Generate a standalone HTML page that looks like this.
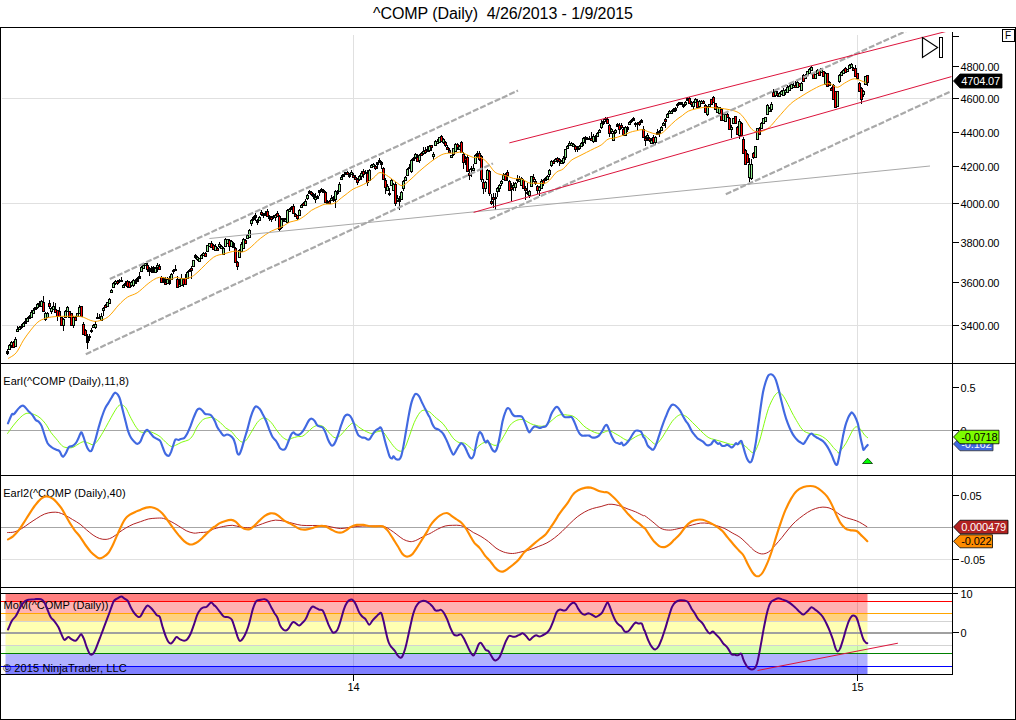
<!DOCTYPE html>
<html><head><meta charset="utf-8"><title>^COMP (Daily)</title>
<style>html,body{margin:0;padding:0;background:#fff;overflow:hidden}svg{display:block}</style></head>
<body>
<svg width="1016" height="720" viewBox="0 0 1016 720">
<rect x="0" y="0" width="1016" height="720" fill="#fff"/>
<g stroke="#e0e0e0" stroke-width="1" shape-rendering="crispEdges">
<line x1="2" y1="98.5" x2="952" y2="98.5"/>
<line x1="2" y1="203.5" x2="952" y2="203.5"/>
<line x1="2" y1="325.5" x2="952" y2="325.5"/>
<line x1="2" y1="559.5" x2="952" y2="559.5"/>
<line x1="353.5" y1="35" x2="353.5" y2="675"/>
<line x1="857.5" y1="35" x2="857.5" y2="675"/>
</g>
<rect x="5.5" y="594" width="862.0" height="7.3" fill="#ff0000" fill-opacity="0.5"/>
<rect x="5.5" y="601.3" width="862.0" height="12.0" fill="#ff0000" fill-opacity="0.3"/>
<rect x="5.5" y="613.3" width="862.0" height="8.0" fill="#ffa500" fill-opacity="0.5"/>
<rect x="5.5" y="621.3" width="862.0" height="24.2" fill="#ffff00" fill-opacity="0.3"/>
<rect x="5.5" y="645.5" width="862.0" height="7.9" fill="#7fff00" fill-opacity="0.3"/>
<rect x="5.5" y="653.4" width="862.0" height="13.0" fill="#0000ff" fill-opacity="0.3"/>
<rect x="5.5" y="666.4" width="862.0" height="7.6" fill="#0000ff" fill-opacity="0.5"/>
<g shape-rendering="crispEdges">
<line x1="1" y1="601.5" x2="952" y2="601.5" stroke="#ff0000"/>
<line x1="1" y1="613.5" x2="952" y2="613.5" stroke="#ffa500"/>
<line x1="1" y1="621.5" x2="952" y2="621.5" stroke="#d3d3d3"/>
<line x1="1" y1="633" x2="952" y2="633" stroke="#a0a0a0" stroke-width="2"/>
<line x1="1" y1="645.5" x2="952" y2="645.5" stroke="#d3d3d3"/>
<line x1="1" y1="653.5" x2="952" y2="653.5" stroke="#008000"/>
<line x1="1" y1="666.5" x2="952" y2="666.5" stroke="#0000ff"/>
<line x1="1" y1="430.5" x2="952" y2="430.5" stroke="#a6a6a6"/>
<line x1="1" y1="527.5" x2="952" y2="527.5" stroke="#a6a6a6"/>
</g>
<path d="M7.5,349.3V354.6M9.5,344.4V349.8M11.5,341.0V347.8M13.5,340.5V348.3M15.5,337.1V347.3M17.5,326.4V331.8M19.5,326.0V329.8M21.5,323.5V328.9M23.5,322.1V327.4M25.5,318.2V324.0M27.5,317.2V322.1M29.5,315.3V319.2M31.5,310.4V317.7M33.5,308.0V313.8M35.5,306.5V310.4M37.5,302.6V308.5M39.5,300.7V306.5M41.5,300.1V306.5M43.5,296.2V311.7M45.5,311.7V320.6M47.5,312.0V317.1M49.5,300.2V308.6M51.5,306.8V314.4M53.5,302.0V310.4M55.5,303.3V312.6M57.5,309.5V320.6M59.5,307.3V316.1M61.5,316.8V325.2M63.5,318.3V330.7M65.5,310.0V317.5M67.5,305.9V311.3M69.5,310.9V317.7M71.5,312.6V325.7M73.5,315.7V327.6M75.5,315.7V320.8M77.5,312.6V316.0M79.5,305.1V313.0M81.5,305.5V316.6M83.5,322.3V334.3M85.5,329.1V335.5M87.5,334.3V348.5M89.5,333.8V341.4M91.5,328.1V332.5M93.5,323.7V327.2M95.5,320.6V329.4M97.5,313.0V318.8M99.5,313.5V319.2M101.5,313.0V321.4M103.5,307.3V315.7M105.5,303.8V307.0M107.5,301.9V306.1M109.5,298.0V303.7M111.5,288.7V292.7M113.5,281.7V288.0M115.5,279.7V284.6M117.5,279.9V284.6M119.5,279.2V282.6M121.5,276.8V281.2M123.5,283.6V287.0M125.5,280.7V286.0M127.5,280.2V287.5M129.5,281.2V287.5M131.5,281.2V286.5M133.5,278.7V286.5M135.5,278.7V284.1M137.5,276.8V281.7M139.5,272.4V278.7M141.5,266.1V271.9M143.5,263.2V268.5M145.5,262.7V266.1M147.5,263.2V271.9M149.5,267.1V275.8M151.5,266.1V272.9M153.5,266.1V272.9M155.5,266.6V272.9M157.5,263.2V272.4M159.5,264.2V269.0M161.5,275.8V283.1M163.5,277.3V283.1M165.5,277.3V284.6M167.5,277.3V284.1M169.5,276.3V284.6M171.5,273.4V279.7M173.5,268.5V273.9M175.5,265.1V271.4M177.5,276.3V288.0M179.5,278.7V287.0M181.5,273.9V286.0M183.5,278.3V286.5M185.5,274.4V284.6M187.5,271.4V279.2M189.5,268.5V272.4M191.5,266.1V278.7M193.5,259.8V267.1M195.5,254.4V258.8M197.5,255.9V260.8M199.5,257.6V261.2M201.5,254.4V258.9M203.5,251.8V255.6M205.5,252.2V256.6M207.5,244.8V252.0M209.5,242.5V247.3M211.5,241.1V247.4M213.5,244.1V250.4M215.5,243.7V251.0M217.5,246.7V250.1M219.5,242.3V247.6M221.5,244.8V249.1M223.5,246.7V254.4M225.5,237.9V246.5M227.5,238.6V243.2M229.5,238.9V251.0M231.5,239.8V246.3M233.5,242.2V247.6M235.5,246.7V263.2M237.5,260.7V270.0M239.5,249.1V257.3M241.5,242.3V251.0M243.5,238.0V248.2M245.5,238.9V243.7M247.5,233.5V238.9M249.5,229.0V237.9M251.5,219.0V225.8M253.5,216.0V220.9M255.5,213.1V220.9M257.5,219.4V224.8M259.5,216.0V220.9M261.5,210.2V215.6M263.5,212.6V218.0M265.5,210.7V215.6M267.5,209.2V217.0M269.5,214.6V220.9M271.5,216.0V221.9M273.5,214.6V218.5M275.5,214.1V220.9M277.5,211.2V216.5M279.5,215.1V230.6M281.5,218.0V229.2M283.5,217.5V222.4M285.5,218.0V220.7M287.5,209.2V222.8M289.5,207.8V212.1M291.5,205.8V209.7M293.5,204.4V213.6M295.5,213.1V217.0M297.5,214.6V219.9M299.5,208.7V215.6M301.5,203.9V208.3M303.5,201.5V205.3M305.5,199.2V205.5M307.5,193.9V199.7M309.5,190.0V194.4M311.5,190.5V195.8M313.5,192.9V199.2M315.5,193.4V202.6M317.5,195.3V198.7M319.5,189.5V196.3M321.5,188.0V192.4M323.5,189.0V192.9M325.5,191.0V203.1M327.5,199.7V203.6M329.5,200.2V203.6M331.5,194.8V199.7M333.5,195.8V201.7M335.5,190.0V208.0M337.5,190.0V195.3M339.5,182.2V192.4M341.5,175.4V179.8M343.5,173.5V177.4M345.5,171.5V174.9M347.5,171.0V174.9M349.5,173.0V177.8M351.5,170.1V174.0M353.5,172.5V178.3M355.5,175.4V180.3M357.5,177.8V184.6M359.5,174.9V180.8M361.5,171.2V179.5M363.5,169.3V177.6M365.5,170.3V174.2M367.5,170.3V185.8M369.5,168.8V180.5M371.5,163.5V167.8M373.5,163.0V165.9M375.5,164.9V169.8M377.5,161.5V168.8M379.5,158.1V163.0M381.5,161.0V168.8M383.5,166.9V179.5M385.5,178.0V193.6M387.5,183.9V190.7M389.5,187.8V196.0M391.5,179.0V185.8M393.5,183.4V190.7M395.5,182.4V205.7M397.5,194.6V202.3M399.5,195.5V209.6M401.5,191.2V199.9M403.5,180.0V190.7M405.5,175.9V181.2M407.5,167.8V175.6M409.5,164.0V169.3M411.5,159.1V172.7M413.5,157.1V160.6M415.5,153.3V159.1M417.5,154.2V161.0M419.5,154.2V163.0M421.5,151.8V156.2M423.5,146.9V154.7M425.5,146.9V153.7M427.5,146.0V152.3M429.5,145.0V151.8M431.5,145.0V150.8M433.5,152.3V160.1M435.5,139.7V145.1M437.5,138.5V142.4M439.5,136.5V142.9M441.5,135.4V141.5M443.5,138.4V143.5M445.5,141.1V146.9M447.5,145.2V148.2M449.5,148.4V151.4M451.5,154.7V157.1M453.5,148.0V156.0M455.5,142.9V150.9M457.5,142.9V149.7M459.5,144.9V150.2M461.5,141.0V152.6M463.5,151.7V168.7M465.5,155.6V165.3M467.5,155.1V171.6M469.5,169.2V179.8M471.5,166.2V176.9M473.5,164.3V170.6M475.5,153.6V163.8M477.5,151.2V158.0M479.5,151.2V160.9M481.5,154.6V181.8M483.5,178.9V193.9M485.5,180.8V191.5M487.5,168.7V179.8M489.5,169.6V195.9M491.5,193.5V205.1M493.5,193.0V208.0M495.5,193.0V210.0M497.5,186.7V197.3M499.5,184.2V191.5M501.5,179.8V185.7M503.5,172.6V180.3M505.5,172.6V180.8M507.5,170.1V180.8M509.5,179.8V190.5M511.5,182.8V200.7M513.5,182.3V190.5M515.5,181.8V190.5M517.5,175.0V183.3M519.5,176.4V180.8M521.5,176.9V186.2M523.5,178.9V188.6M525.5,185.7V199.8M527.5,183.3V195.4M529.5,189.6V198.3M531.5,176.0V186.7M533.5,174.0V181.8M535.5,178.9V184.7M537.5,184.7V194.4M539.5,186.2V195.9M541.5,179.4V188.6M543.5,178.9V186.2M545.5,177.1V181.0M547.5,174.6V179.5M549.5,168.8V177.1M551.5,160.1V166.9M553.5,159.6V163.5M555.5,157.6V161.0M557.5,156.7V162.5M559.5,157.6V165.9M561.5,159.6V164.4M563.5,156.2V163.9M565.5,148.9V160.1M567.5,145.0V148.9M569.5,141.1V146.0M571.5,142.1V145.5M573.5,142.6V147.4M575.5,144.5V151.8M577.5,146.4V151.8M579.5,145.0V149.8M581.5,141.6V147.4M583.5,137.2V146.4M585.5,135.8V143.5M587.5,136.7V139.6M589.5,136.2V140.1M591.5,131.9V141.1M593.5,134.3V143.0M595.5,134.8V142.1M597.5,131.9V137.2M599.5,129.0V133.3M601.5,119.7V128.5M603.5,119.2V124.6M605.5,116.8V122.1M607.5,117.3V124.1M609.5,123.6V136.7M611.5,127.5V134.3M613.5,131.4V141.1M615.5,129.0V133.8M617.5,123.1V127.0M619.5,123.1V133.8M621.5,123.1V129.4M623.5,127.1V135.6M625.5,125.8V136.0M627.5,125.8V131.7M629.5,121.4V125.3M631.5,118.5V122.9M633.5,117.1V120.5M635.5,121.9V126.8M637.5,122.4V129.7M639.5,121.0V125.8M641.5,119.0V123.4M643.5,126.3V138.0M645.5,135.5V145.7M647.5,132.6V141.4M649.5,137.0V142.3M651.5,138.0V144.3M653.5,135.1V145.7M655.5,135.5V144.8M657.5,129.2V134.6M659.5,130.2V136.5M661.5,125.8V131.2M663.5,122.4V126.3M665.5,117.6V127.8M667.5,112.7V117.6M669.5,109.8V113.2M671.5,109.8V113.2M673.5,108.3V112.2M675.5,106.9V111.7M677.5,103.0V107.8M679.5,102.0V104.9M681.5,101.5V104.4M683.5,104.0V107.8M685.5,101.0V105.9M687.5,97.1V101.0M689.5,96.7V104.0M691.5,101.0V106.9M693.5,101.0V108.8M695.5,98.1V103.0M697.5,98.6V107.8M699.5,100.1V107.8M701.5,100.1V104.4M703.5,100.1V104.4M705.5,104.0V113.2M707.5,105.9V115.6M709.5,103.5V107.4M711.5,98.5V105.4M713.5,95.6V102.4M715.5,102.6V109.7M717.5,106.2V112.9M719.5,107.0V113.4M721.5,107.9V120.8M723.5,113.2V120.2M725.5,114.0V120.8M727.5,112.8V117.9M729.5,117.4V129.5M731.5,125.4V137.9M733.5,117.7V122.9M735.5,115.5V123.5M737.5,126.4V134.5M739.5,119.2V139.3M741.5,121.9V135.6M743.5,136.5V153.9M745.5,148.8V164.7M747.5,153.3V162.7M749.5,158.1V181.7M751.5,158.8V179.6M753.5,151.8V158.8M755.5,145.7V158.2M757.5,127.5V139.7M759.5,126.8V134.4M761.5,122.3V127.9M763.5,118.1V123.3M765.5,116.8V122.2M767.5,104.1V114.9M769.5,106.7V112.2M771.5,102.2V111.5M773.5,88.8V95.9M775.5,91.2V96.5M777.5,90.9V96.6M779.5,91.9V96.7M781.5,90.0V94.8M783.5,87.6V96.1M785.5,88.7V95.3M787.5,84.8V92.2M789.5,85.3V90.5M791.5,82.3V89.2M793.5,82.2V86.9M795.5,81.2V87.9M797.5,81.2V88.1M799.5,82.5V87.1M801.5,82.3V90.2M803.5,73.9V80.9M805.5,73.8V79.3M807.5,70.5V75.2M809.5,68.4V74.2M811.5,65.5V70.9M813.5,72.7V79.2M815.5,73.6V78.5M817.5,69.4V73.2M819.5,70.2V74.9M821.5,67.9V72.7M823.5,70.6V77.2M825.5,72.3V84.6M827.5,72.8V86.3M829.5,81.4V85.5M831.5,87.3V90.9M833.5,84.2V99.5M835.5,90.5V107.9M837.5,90.5V106.1M839.5,73.8V83.4M841.5,71.3V75.1M843.5,69.2V73.2M845.5,67.1V72.8M847.5,68.8V71.6M849.5,63.8V68.8M851.5,63.3V67.3M853.5,66.9V70.9M855.5,65.0V76.8M857.5,72.5V79.2M859.5,81.9V91.3M861.5,87.2V103.5M863.5,89.7V96.8M865.5,75.6V84.9M867.5,75.1V85.5" stroke="#000" stroke-width="1" fill="none" shape-rendering="crispEdges"/>
<g stroke="#000" stroke-width="1" fill="#90ee90" shape-rendering="crispEdges"><rect x="8.5" y="345.5" width="2" height="4.0"/><rect x="10.5" y="342.5" width="2" height="3.0"/><rect x="14.5" y="339.5" width="2" height="7.0"/><rect x="16.5" y="329.5" width="2" height="2.0"/><rect x="18.5" y="327.5" width="2" height="2.0"/><rect x="22.5" y="323.5" width="2" height="3.0"/><rect x="26.5" y="318.5" width="2" height="3.0"/><rect x="30.5" y="312.5" width="2" height="5.0"/><rect x="32.5" y="310.5" width="2" height="3.0"/><rect x="36.5" y="304.5" width="2" height="3.0"/><rect x="40.5" y="301.5" width="2" height="5.0"/><rect x="44.5" y="313.5" width="2" height="6.0"/><rect x="46.5" y="313.5" width="2" height="4.0"/><rect x="50.5" y="308.5" width="2" height="3.0"/><rect x="52.5" y="306.5" width="2" height="3.0"/><rect x="62.5" y="319.5" width="2" height="6.0"/><rect x="64.5" y="311.5" width="2" height="6.0"/><rect x="66.5" y="307.5" width="2" height="4.0"/><rect x="72.5" y="317.5" width="2" height="8.0"/><rect x="76.5" y="313.5" width="2" height="3.0"/><rect x="78.5" y="307.5" width="2" height="6.0"/><rect x="92.5" y="325.5" width="2" height="2.0"/><rect x="94.5" y="324.5" width="2" height="3.0"/><rect x="100.5" y="316.5" width="2" height="4.0"/><rect x="102.5" y="308.5" width="2" height="2.0"/><rect x="106.5" y="302.5" width="2" height="4.0"/><rect x="108.5" y="299.5" width="2" height="4.0"/><rect x="110.5" y="290.5" width="2" height="2.0"/><rect x="112.5" y="283.5" width="2" height="4.0"/><rect x="114.5" y="281.5" width="2" height="2.0"/><rect x="122.5" y="285.5" width="2" height="2.0"/><rect x="130.5" y="282.5" width="2" height="3.0"/><rect x="132.5" y="280.5" width="2" height="5.0"/><rect x="140.5" y="267.5" width="2" height="4.0"/><rect x="142.5" y="265.5" width="2" height="3.0"/><rect x="144.5" y="263.5" width="2" height="2.0"/><rect x="154.5" y="268.5" width="2" height="4.0"/><rect x="156.5" y="265.5" width="2" height="2.0"/><rect x="166.5" y="279.5" width="2" height="4.0"/><rect x="170.5" y="274.5" width="2" height="5.0"/><rect x="178.5" y="284.5" width="2" height="2.0"/><rect x="180.5" y="278.5" width="2" height="7.0"/><rect x="186.5" y="272.5" width="2" height="6.0"/><rect x="192.5" y="260.5" width="2" height="6.0"/><rect x="196.5" y="257.5" width="2" height="2.0"/><rect x="198.5" y="258.5" width="2" height="3.0"/><rect x="200.5" y="255.5" width="2" height="3.0"/><rect x="202.5" y="253.5" width="2" height="2.0"/><rect x="206.5" y="245.5" width="2" height="6.0"/><rect x="208.5" y="243.5" width="2" height="3.0"/><rect x="214.5" y="246.5" width="2" height="4.0"/><rect x="218.5" y="244.5" width="2" height="2.0"/><rect x="220.5" y="246.5" width="2" height="2.0"/><rect x="222.5" y="248.5" width="2" height="6.0"/><rect x="224.5" y="239.5" width="2" height="7.0"/><rect x="226.5" y="239.5" width="2" height="4.0"/><rect x="230.5" y="241.5" width="2" height="5.0"/><rect x="238.5" y="250.5" width="2" height="7.0"/><rect x="240.5" y="244.5" width="2" height="7.0"/><rect x="242.5" y="239.5" width="2" height="9.0"/><rect x="246.5" y="235.5" width="2" height="3.0"/><rect x="248.5" y="230.5" width="2" height="7.0"/><rect x="250.5" y="220.5" width="2" height="3.0"/><rect x="258.5" y="217.5" width="2" height="3.0"/><rect x="274.5" y="215.5" width="2" height="2.0"/><rect x="280.5" y="219.5" width="2" height="8.0"/><rect x="284.5" y="219.5" width="2" height="2.0"/><rect x="286.5" y="210.5" width="2" height="12.0"/><rect x="288.5" y="209.5" width="2" height="2.0"/><rect x="298.5" y="210.5" width="2" height="5.0"/><rect x="300.5" y="205.5" width="2" height="2.0"/><rect x="304.5" y="201.5" width="2" height="4.0"/><rect x="306.5" y="195.5" width="2" height="3.0"/><rect x="314.5" y="197.5" width="2" height="2.0"/><rect x="330.5" y="198.5" width="2" height="2.0"/><rect x="334.5" y="191.5" width="2" height="8.0"/><rect x="338.5" y="184.5" width="2" height="7.0"/><rect x="340.5" y="177.5" width="2" height="2.0"/><rect x="350.5" y="172.5" width="2" height="2.0"/><rect x="358.5" y="176.5" width="2" height="3.0"/><rect x="360.5" y="173.5" width="2" height="3.0"/><rect x="368.5" y="170.5" width="2" height="10.0"/><rect x="370.5" y="165.5" width="2" height="2.0"/><rect x="372.5" y="164.5" width="2" height="2.0"/><rect x="386.5" y="186.5" width="2" height="4.0"/><rect x="390.5" y="180.5" width="2" height="5.0"/><rect x="392.5" y="184.5" width="2" height="6.0"/><rect x="396.5" y="198.5" width="2" height="2.0"/><rect x="400.5" y="192.5" width="2" height="7.0"/><rect x="402.5" y="181.5" width="2" height="7.0"/><rect x="404.5" y="177.5" width="2" height="3.0"/><rect x="406.5" y="169.5" width="2" height="6.0"/><rect x="410.5" y="160.5" width="2" height="11.0"/><rect x="414.5" y="154.5" width="2" height="3.0"/><rect x="418.5" y="155.5" width="2" height="5.0"/><rect x="422.5" y="151.5" width="2" height="2.0"/><rect x="428.5" y="146.5" width="2" height="4.0"/><rect x="432.5" y="154.5" width="2" height="2.0"/><rect x="434.5" y="141.5" width="2" height="4.0"/><rect x="436.5" y="141.5" width="2" height="2.0"/><rect x="438.5" y="137.5" width="2" height="5.0"/><rect x="442.5" y="139.5" width="2" height="3.0"/><rect x="450.5" y="155.5" width="2" height="2.0"/><rect x="452.5" y="148.5" width="2" height="6.0"/><rect x="454.5" y="144.5" width="2" height="7.0"/><rect x="458.5" y="146.5" width="2" height="3.0"/><rect x="472.5" y="168.5" width="2" height="2.0"/><rect x="474.5" y="155.5" width="2" height="8.0"/><rect x="484.5" y="182.5" width="2" height="6.0"/><rect x="486.5" y="170.5" width="2" height="9.0"/><rect x="496.5" y="188.5" width="2" height="3.0"/><rect x="498.5" y="185.5" width="2" height="3.0"/><rect x="500.5" y="181.5" width="2" height="2.0"/><rect x="502.5" y="175.5" width="2" height="4.0"/><rect x="512.5" y="185.5" width="2" height="2.0"/><rect x="514.5" y="183.5" width="2" height="4.0"/><rect x="518.5" y="179.5" width="2" height="2.0"/><rect x="520.5" y="178.5" width="2" height="7.0"/><rect x="528.5" y="191.5" width="2" height="4.0"/><rect x="530.5" y="176.5" width="2" height="10.0"/><rect x="538.5" y="187.5" width="2" height="3.0"/><rect x="540.5" y="181.5" width="2" height="7.0"/><rect x="546.5" y="176.5" width="2" height="3.0"/><rect x="548.5" y="170.5" width="2" height="4.0"/><rect x="550.5" y="161.5" width="2" height="4.0"/><rect x="554.5" y="159.5" width="2" height="2.0"/><rect x="560.5" y="161.5" width="2" height="2.0"/><rect x="562.5" y="158.5" width="2" height="4.0"/><rect x="564.5" y="149.5" width="2" height="8.0"/><rect x="566.5" y="146.5" width="2" height="2.0"/><rect x="568.5" y="143.5" width="2" height="2.0"/><rect x="570.5" y="143.5" width="2" height="2.0"/><rect x="572.5" y="144.5" width="2" height="2.0"/><rect x="578.5" y="146.5" width="2" height="2.0"/><rect x="580.5" y="143.5" width="2" height="3.0"/><rect x="582.5" y="138.5" width="2" height="4.0"/><rect x="592.5" y="136.5" width="2" height="5.0"/><rect x="596.5" y="133.5" width="2" height="3.0"/><rect x="598.5" y="130.5" width="2" height="2.0"/><rect x="600.5" y="123.5" width="2" height="4.0"/><rect x="610.5" y="129.5" width="2" height="2.0"/><rect x="612.5" y="133.5" width="2" height="7.0"/><rect x="614.5" y="130.5" width="2" height="2.0"/><rect x="624.5" y="127.5" width="2" height="8.0"/><rect x="628.5" y="122.5" width="2" height="2.0"/><rect x="646.5" y="135.5" width="2" height="2.0"/><rect x="650.5" y="140.5" width="2" height="3.0"/><rect x="654.5" y="137.5" width="2" height="5.0"/><rect x="660.5" y="127.5" width="2" height="3.0"/><rect x="662.5" y="123.5" width="2" height="2.0"/><rect x="666.5" y="114.5" width="2" height="3.0"/><rect x="668.5" y="111.5" width="2" height="2.0"/><rect x="670.5" y="111.5" width="2" height="2.0"/><rect x="684.5" y="102.5" width="2" height="2.0"/><rect x="692.5" y="102.5" width="2" height="4.0"/><rect x="694.5" y="99.5" width="2" height="3.0"/><rect x="698.5" y="101.5" width="2" height="5.0"/><rect x="700.5" y="101.5" width="2" height="2.0"/><rect x="706.5" y="107.5" width="2" height="7.0"/><rect x="708.5" y="104.5" width="2" height="2.0"/><rect x="716.5" y="107.5" width="2" height="5.0"/><rect x="718.5" y="107.5" width="2" height="6.0"/><rect x="722.5" y="114.5" width="2" height="6.0"/><rect x="724.5" y="114.5" width="2" height="7.0"/><rect x="730.5" y="127.5" width="2" height="2.0"/><rect x="732.5" y="118.5" width="2" height="5.0"/><rect x="738.5" y="121.5" width="2" height="14.0"/><rect x="748.5" y="164.5" width="2" height="13.0"/><rect x="750.5" y="164.5" width="2" height="14.0"/><rect x="754.5" y="146.5" width="2" height="11.0"/><rect x="756.5" y="128.5" width="2" height="11.0"/><rect x="760.5" y="123.5" width="2" height="5.0"/><rect x="762.5" y="118.5" width="2" height="5.0"/><rect x="764.5" y="117.5" width="2" height="4.0"/><rect x="766.5" y="105.5" width="2" height="9.0"/><rect x="768.5" y="108.5" width="2" height="3.0"/><rect x="770.5" y="104.5" width="2" height="5.0"/><rect x="774.5" y="91.5" width="2" height="4.0"/><rect x="778.5" y="93.5" width="2" height="3.0"/><rect x="780.5" y="91.5" width="2" height="3.0"/><rect x="782.5" y="90.5" width="2" height="5.0"/><rect x="784.5" y="90.5" width="2" height="2.0"/><rect x="786.5" y="87.5" width="2" height="5.0"/><rect x="788.5" y="86.5" width="2" height="4.0"/><rect x="790.5" y="84.5" width="2" height="4.0"/><rect x="792.5" y="85.5" width="2" height="2.0"/><rect x="796.5" y="82.5" width="2" height="5.0"/><rect x="800.5" y="83.5" width="2" height="7.0"/><rect x="804.5" y="75.5" width="2" height="3.0"/><rect x="806.5" y="71.5" width="2" height="4.0"/><rect x="808.5" y="69.5" width="2" height="4.0"/><rect x="810.5" y="67.5" width="2" height="3.0"/><rect x="814.5" y="74.5" width="2" height="4.0"/><rect x="816.5" y="70.5" width="2" height="3.0"/><rect x="820.5" y="68.5" width="2" height="4.0"/><rect x="824.5" y="73.5" width="2" height="11.0"/><rect x="836.5" y="91.5" width="2" height="15.0"/><rect x="838.5" y="75.5" width="2" height="6.0"/><rect x="840.5" y="72.5" width="2" height="3.0"/><rect x="842.5" y="70.5" width="2" height="3.0"/><rect x="846.5" y="69.5" width="2" height="2.0"/><rect x="848.5" y="65.5" width="2" height="3.0"/><rect x="850.5" y="64.5" width="2" height="3.0"/><rect x="862.5" y="91.5" width="2" height="3.0"/><rect x="864.5" y="76.5" width="2" height="8.0"/></g>
<g stroke="#000" stroke-width="1" fill="#ff0000" shape-rendering="crispEdges"><rect x="12.5" y="342.5" width="2" height="5.0"/><rect x="42.5" y="302.5" width="2" height="9.0"/><rect x="48.5" y="303.5" width="2" height="3.0"/><rect x="54.5" y="309.5" width="2" height="3.0"/><rect x="56.5" y="310.5" width="2" height="6.0"/><rect x="58.5" y="311.5" width="2" height="5.0"/><rect x="60.5" y="317.5" width="2" height="8.0"/><rect x="68.5" y="311.5" width="2" height="6.0"/><rect x="70.5" y="313.5" width="2" height="12.0"/><rect x="74.5" y="317.5" width="2" height="3.0"/><rect x="80.5" y="306.5" width="2" height="10.0"/><rect x="82.5" y="324.5" width="2" height="10.0"/><rect x="84.5" y="330.5" width="2" height="5.0"/><rect x="104.5" y="305.5" width="2" height="2.0"/><rect x="116.5" y="281.5" width="2" height="2.0"/><rect x="126.5" y="281.5" width="2" height="5.0"/><rect x="128.5" y="282.5" width="2" height="5.0"/><rect x="146.5" y="265.5" width="2" height="4.0"/><rect x="158.5" y="266.5" width="2" height="3.0"/><rect x="160.5" y="277.5" width="2" height="5.0"/><rect x="164.5" y="282.5" width="2" height="2.0"/><rect x="176.5" y="279.5" width="2" height="8.0"/><rect x="182.5" y="279.5" width="2" height="5.0"/><rect x="184.5" y="278.5" width="2" height="6.0"/><rect x="190.5" y="268.5" width="2" height="2.0"/><rect x="204.5" y="253.5" width="2" height="3.0"/><rect x="210.5" y="243.5" width="2" height="4.0"/><rect x="212.5" y="245.5" width="2" height="4.0"/><rect x="216.5" y="248.5" width="2" height="2.0"/><rect x="228.5" y="240.5" width="2" height="6.0"/><rect x="234.5" y="248.5" width="2" height="14.0"/><rect x="236.5" y="262.5" width="2" height="4.0"/><rect x="244.5" y="240.5" width="2" height="3.0"/><rect x="260.5" y="212.5" width="2" height="2.0"/><rect x="266.5" y="211.5" width="2" height="5.0"/><rect x="270.5" y="217.5" width="2" height="2.0"/><rect x="276.5" y="213.5" width="2" height="3.0"/><rect x="278.5" y="216.5" width="2" height="13.0"/><rect x="292.5" y="206.5" width="2" height="7.0"/><rect x="294.5" y="214.5" width="2" height="2.0"/><rect x="296.5" y="215.5" width="2" height="3.0"/><rect x="302.5" y="203.5" width="2" height="2.0"/><rect x="310.5" y="192.5" width="2" height="2.0"/><rect x="324.5" y="192.5" width="2" height="10.0"/><rect x="328.5" y="201.5" width="2" height="2.0"/><rect x="346.5" y="172.5" width="2" height="2.0"/><rect x="352.5" y="175.5" width="2" height="2.0"/><rect x="354.5" y="177.5" width="2" height="2.0"/><rect x="356.5" y="179.5" width="2" height="3.0"/><rect x="362.5" y="171.5" width="2" height="3.0"/><rect x="366.5" y="173.5" width="2" height="9.0"/><rect x="374.5" y="166.5" width="2" height="2.0"/><rect x="382.5" y="168.5" width="2" height="11.0"/><rect x="384.5" y="180.5" width="2" height="7.0"/><rect x="394.5" y="184.5" width="2" height="19.0"/><rect x="416.5" y="157.5" width="2" height="4.0"/><rect x="420.5" y="153.5" width="2" height="2.0"/><rect x="424.5" y="150.5" width="2" height="2.0"/><rect x="430.5" y="145.5" width="2" height="2.0"/><rect x="440.5" y="136.5" width="2" height="5.0"/><rect x="444.5" y="142.5" width="2" height="3.0"/><rect x="446.5" y="147.5" width="2" height="2.0"/><rect x="448.5" y="150.5" width="2" height="2.0"/><rect x="456.5" y="144.5" width="2" height="3.0"/><rect x="460.5" y="142.5" width="2" height="10.0"/><rect x="462.5" y="154.5" width="2" height="8.0"/><rect x="464.5" y="158.5" width="2" height="2.0"/><rect x="466.5" y="157.5" width="2" height="14.0"/><rect x="468.5" y="173.5" width="2" height="2.0"/><rect x="478.5" y="153.5" width="2" height="6.0"/><rect x="480.5" y="156.5" width="2" height="23.0"/><rect x="482.5" y="182.5" width="2" height="6.0"/><rect x="488.5" y="171.5" width="2" height="22.0"/><rect x="490.5" y="201.5" width="2" height="2.0"/><rect x="492.5" y="197.5" width="2" height="2.0"/><rect x="504.5" y="174.5" width="2" height="6.0"/><rect x="506.5" y="172.5" width="2" height="3.0"/><rect x="508.5" y="181.5" width="2" height="9.0"/><rect x="510.5" y="187.5" width="2" height="2.0"/><rect x="522.5" y="180.5" width="2" height="8.0"/><rect x="524.5" y="188.5" width="2" height="2.0"/><rect x="532.5" y="177.5" width="2" height="2.0"/><rect x="534.5" y="181.5" width="2" height="2.0"/><rect x="536.5" y="186.5" width="2" height="4.0"/><rect x="542.5" y="180.5" width="2" height="3.0"/><rect x="552.5" y="161.5" width="2" height="2.0"/><rect x="556.5" y="158.5" width="2" height="2.0"/><rect x="558.5" y="159.5" width="2" height="2.0"/><rect x="574.5" y="146.5" width="2" height="3.0"/><rect x="590.5" y="138.5" width="2" height="2.0"/><rect x="606.5" y="119.5" width="2" height="4.0"/><rect x="608.5" y="125.5" width="2" height="8.0"/><rect x="618.5" y="125.5" width="2" height="4.0"/><rect x="620.5" y="125.5" width="2" height="2.0"/><rect x="622.5" y="129.5" width="2" height="5.0"/><rect x="638.5" y="122.5" width="2" height="2.0"/><rect x="642.5" y="129.5" width="2" height="8.0"/><rect x="644.5" y="138.5" width="2" height="2.0"/><rect x="648.5" y="138.5" width="2" height="2.0"/><rect x="652.5" y="137.5" width="2" height="5.0"/><rect x="664.5" y="119.5" width="2" height="2.0"/><rect x="688.5" y="98.5" width="2" height="5.0"/><rect x="690.5" y="102.5" width="2" height="2.0"/><rect x="696.5" y="101.5" width="2" height="6.0"/><rect x="702.5" y="101.5" width="2" height="2.0"/><rect x="704.5" y="105.5" width="2" height="7.0"/><rect x="710.5" y="99.5" width="2" height="5.0"/><rect x="712.5" y="97.5" width="2" height="5.0"/><rect x="714.5" y="103.5" width="2" height="6.0"/><rect x="720.5" y="109.5" width="2" height="11.0"/><rect x="726.5" y="114.5" width="2" height="3.0"/><rect x="728.5" y="118.5" width="2" height="11.0"/><rect x="734.5" y="116.5" width="2" height="7.0"/><rect x="736.5" y="127.5" width="2" height="7.0"/><rect x="740.5" y="123.5" width="2" height="12.0"/><rect x="742.5" y="139.5" width="2" height="14.0"/><rect x="744.5" y="150.5" width="2" height="14.0"/><rect x="746.5" y="154.5" width="2" height="8.0"/><rect x="752.5" y="153.5" width="2" height="4.0"/><rect x="758.5" y="128.5" width="2" height="6.0"/><rect x="772.5" y="92.5" width="2" height="4.0"/><rect x="776.5" y="93.5" width="2" height="2.0"/><rect x="794.5" y="85.5" width="2" height="2.0"/><rect x="798.5" y="83.5" width="2" height="3.0"/><rect x="802.5" y="75.5" width="2" height="6.0"/><rect x="812.5" y="73.5" width="2" height="5.0"/><rect x="818.5" y="70.5" width="2" height="5.0"/><rect x="822.5" y="71.5" width="2" height="5.0"/><rect x="826.5" y="73.5" width="2" height="13.0"/><rect x="828.5" y="82.5" width="2" height="3.0"/><rect x="830.5" y="88.5" width="2" height="2.0"/><rect x="832.5" y="85.5" width="2" height="14.0"/><rect x="834.5" y="91.5" width="2" height="16.0"/><rect x="844.5" y="68.5" width="2" height="4.0"/><rect x="852.5" y="68.5" width="2" height="2.0"/><rect x="854.5" y="68.5" width="2" height="8.0"/><rect x="856.5" y="73.5" width="2" height="5.0"/><rect x="858.5" y="83.5" width="2" height="8.0"/><rect x="860.5" y="88.5" width="2" height="11.0"/><rect x="866.5" y="75.5" width="2" height="7.0"/></g>
<g fill="#000" shape-rendering="crispEdges"><rect x="6.0" y="351.0" width="3" height="3.0"/><rect x="20.0" y="326.0" width="3" height="2.0"/><rect x="24.0" y="321.0" width="3" height="3.0"/><rect x="28.0" y="316.0" width="3" height="3.0"/><rect x="34.0" y="307.0" width="3" height="3.0"/><rect x="38.0" y="303.0" width="3" height="3.0"/><rect x="86.0" y="336.0" width="3" height="7.0"/><rect x="88.0" y="336.0" width="3" height="2.0"/><rect x="90.0" y="330.0" width="3" height="2.0"/><rect x="96.0" y="317.0" width="3" height="2.0"/><rect x="98.0" y="317.0" width="3" height="2.0"/><rect x="118.0" y="280.0" width="3" height="2.0"/><rect x="120.0" y="280.0" width="3" height="2.0"/><rect x="124.0" y="283.0" width="3" height="3.0"/><rect x="134.0" y="281.0" width="3" height="3.0"/><rect x="136.0" y="278.0" width="3" height="4.0"/><rect x="138.0" y="276.0" width="3" height="3.0"/><rect x="148.0" y="270.0" width="3" height="2.0"/><rect x="150.0" y="268.0" width="3" height="3.0"/><rect x="152.0" y="267.0" width="3" height="6.0"/><rect x="162.0" y="278.0" width="3" height="5.0"/><rect x="168.0" y="278.0" width="3" height="6.0"/><rect x="172.0" y="270.0" width="3" height="2.0"/><rect x="174.0" y="269.0" width="3" height="2.0"/><rect x="188.0" y="270.0" width="3" height="2.0"/><rect x="194.0" y="255.0" width="3" height="3.0"/><rect x="232.0" y="243.0" width="3" height="5.0"/><rect x="252.0" y="217.0" width="3" height="3.0"/><rect x="254.0" y="215.0" width="3" height="3.0"/><rect x="256.0" y="220.0" width="3" height="3.0"/><rect x="262.0" y="214.0" width="3" height="2.0"/><rect x="264.0" y="213.0" width="3" height="3.0"/><rect x="268.0" y="216.0" width="3" height="3.0"/><rect x="272.0" y="216.0" width="3" height="2.0"/><rect x="282.0" y="218.0" width="3" height="3.0"/><rect x="290.0" y="207.0" width="3" height="3.0"/><rect x="308.0" y="191.0" width="3" height="3.0"/><rect x="312.0" y="194.0" width="3" height="3.0"/><rect x="316.0" y="196.0" width="3" height="3.0"/><rect x="318.0" y="190.0" width="3" height="3.0"/><rect x="320.0" y="189.0" width="3" height="2.0"/><rect x="322.0" y="190.0" width="3" height="3.0"/><rect x="326.0" y="201.0" width="3" height="3.0"/><rect x="332.0" y="197.0" width="3" height="4.0"/><rect x="336.0" y="191.0" width="3" height="3.0"/><rect x="342.0" y="174.0" width="3" height="3.0"/><rect x="344.0" y="172.0" width="3" height="3.0"/><rect x="348.0" y="174.0" width="3" height="3.0"/><rect x="364.0" y="172.0" width="3" height="2.0"/><rect x="376.0" y="162.0" width="3" height="3.0"/><rect x="378.0" y="160.0" width="3" height="2.0"/><rect x="380.0" y="162.0" width="3" height="3.0"/><rect x="388.0" y="193.0" width="3" height="2.0"/><rect x="398.0" y="199.0" width="3" height="3.0"/><rect x="408.0" y="167.0" width="3" height="2.0"/><rect x="412.0" y="158.0" width="3" height="3.0"/><rect x="426.0" y="149.0" width="3" height="3.0"/><rect x="470.0" y="168.0" width="3" height="2.0"/><rect x="476.0" y="153.0" width="3" height="5.0"/><rect x="494.0" y="197.0" width="3" height="2.0"/><rect x="516.0" y="179.0" width="3" height="2.0"/><rect x="526.0" y="192.0" width="3" height="2.0"/><rect x="544.0" y="178.0" width="3" height="3.0"/><rect x="576.0" y="148.0" width="3" height="2.0"/><rect x="584.0" y="137.0" width="3" height="3.0"/><rect x="586.0" y="138.0" width="3" height="2.0"/><rect x="588.0" y="138.0" width="3" height="2.0"/><rect x="594.0" y="136.0" width="3" height="6.0"/><rect x="602.0" y="121.0" width="3" height="3.0"/><rect x="604.0" y="118.0" width="3" height="2.0"/><rect x="616.0" y="124.0" width="3" height="3.0"/><rect x="626.0" y="127.0" width="3" height="3.0"/><rect x="630.0" y="120.0" width="3" height="2.0"/><rect x="632.0" y="118.0" width="3" height="3.0"/><rect x="634.0" y="123.0" width="3" height="2.0"/><rect x="636.0" y="123.0" width="3" height="2.0"/><rect x="640.0" y="120.0" width="3" height="3.0"/><rect x="656.0" y="132.0" width="3" height="3.0"/><rect x="658.0" y="131.0" width="3" height="3.0"/><rect x="672.0" y="109.0" width="3" height="3.0"/><rect x="674.0" y="108.0" width="3" height="3.0"/><rect x="676.0" y="104.0" width="3" height="2.0"/><rect x="678.0" y="102.0" width="3" height="3.0"/><rect x="680.0" y="102.0" width="3" height="3.0"/><rect x="682.0" y="105.0" width="3" height="2.0"/><rect x="686.0" y="98.0" width="3" height="3.0"/></g>
<path d="M8.1,358.5 C9.5,357.6 13.7,355.8 16.2,352.8 C18.8,349.7 21.1,343.9 23.5,340.1 C25.9,336.4 28.3,333.2 30.7,330.2 C33.1,327.2 35.5,324.0 37.9,322.1 C40.3,320.1 42.4,319.4 45.1,318.5 C47.8,317.6 50.3,317.0 54.2,316.7 C58.1,316.3 64.1,316.3 68.6,316.3 C73.1,316.3 77.6,316.0 81.2,316.7 C84.9,317.3 87.6,319.5 90.3,320.3 C93.0,321.0 94.5,321.8 97.5,321.2 C100.5,320.6 104.8,319.4 108.3,316.7 C111.9,314.0 115.5,308.2 118.7,305.0 C121.9,301.8 124.3,299.2 127.4,297.2 C130.5,295.2 133.9,294.9 137.2,292.8 C140.4,290.7 144.2,286.8 146.9,284.6 C149.7,282.4 151.6,280.9 153.7,279.7 C155.8,278.5 157.4,277.6 159.5,277.3 C161.6,277.1 164.4,277.9 166.3,278.2 C168.2,278.5 169.6,279.3 171.2,279.2 C172.8,279.1 174.2,277.4 176.0,277.3 C177.8,277.2 180.0,278.6 181.9,278.7 C183.8,278.8 185.9,278.6 187.7,278.2 C189.5,277.8 190.8,277.4 192.5,276.3 C194.2,275.2 194.5,275.0 198.0,271.9 C201.5,268.8 209.0,260.4 213.3,257.4 C217.7,254.4 220.6,254.9 224.2,253.8 C227.8,252.8 232.0,251.4 235.0,251.1 C238.0,250.8 239.8,252.5 242.2,252.0 C244.6,251.6 246.4,250.7 249.4,248.4 C252.4,246.1 256.7,241.3 260.3,238.5 C263.9,235.6 267.5,233.2 271.1,231.2 C274.7,229.3 278.8,228.3 281.9,226.7 C285.1,225.2 287.4,223.1 290.0,222.0 C292.6,220.9 295.2,221.2 297.8,220.1 C300.4,219.0 303.2,216.9 305.5,215.3 C307.8,213.7 309.1,211.9 311.4,210.4 C313.7,208.9 316.9,207.6 319.2,206.5 C321.5,205.4 323.1,204.5 325.0,204.1 C326.9,203.7 329.0,204.3 330.8,204.1 C332.6,203.8 333.9,203.6 335.7,202.6 C337.5,201.6 339.6,199.3 341.5,197.8 C343.4,196.3 345.4,194.9 347.3,193.4 C349.2,191.9 351.1,190.2 353.2,189.0 C355.3,187.8 357.7,187.2 360.0,186.1 C362.3,185.0 364.5,184.1 366.8,182.7 C369.1,181.3 371.4,179.5 373.6,177.8 C375.8,176.1 377.5,172.7 380.0,172.5 C382.5,172.3 386.1,175.1 388.7,176.7 C391.4,178.3 393.7,180.6 396.0,182.1 C398.2,183.6 400.2,185.8 402.3,185.7 C404.4,185.5 405.7,183.6 408.6,181.2 C411.5,178.8 415.8,174.4 419.4,171.2 C423.0,168.1 426.7,164.9 430.3,162.2 C433.9,159.5 438.1,156.5 441.1,155.0 C444.1,153.5 446.0,153.5 448.3,153.2 C450.6,152.9 452.9,153.3 455.0,153.1 C457.1,152.9 458.9,151.8 460.8,152.1 C462.8,152.3 464.6,153.7 466.7,154.6 C468.8,155.5 471.2,157.0 473.5,157.5 C475.8,158.0 478.0,156.7 480.3,157.5 C482.6,158.3 484.8,160.1 487.1,162.4 C489.4,164.7 492.0,169.2 493.9,171.1 C495.8,173.0 496.8,173.3 498.7,174.0 C500.6,174.7 503.1,174.8 505.5,175.5 C507.9,176.2 510.7,177.8 513.3,178.4 C515.9,179.0 518.5,178.2 521.1,178.9 C523.7,179.6 526.5,182.1 528.9,182.8 C531.3,183.5 533.0,183.1 535.7,183.2 C538.4,183.3 542.7,183.7 545.0,183.2 C547.3,182.7 547.8,181.8 549.7,180.0 C551.6,178.2 554.2,174.1 556.5,172.2 C558.8,170.3 560.9,170.8 563.3,168.8 C565.7,166.9 568.5,162.6 571.1,160.5 C573.7,158.4 576.3,157.6 578.9,156.2 C581.5,154.8 584.0,153.6 586.6,152.3 C589.2,151.0 592.0,149.6 594.4,148.4 C596.8,147.2 598.9,146.5 601.2,145.0 C603.5,143.5 605.9,140.3 608.0,139.2 C610.1,138.1 611.6,138.8 613.9,138.2 C616.2,137.6 618.8,136.8 621.6,135.8 C624.4,134.8 628.3,132.9 630.8,132.1 C633.3,131.2 634.8,131.1 636.7,130.7 C638.7,130.3 640.4,129.5 642.5,129.7 C644.6,129.9 647.0,131.4 649.3,132.1 C651.6,132.8 654.0,133.9 656.1,134.1 C658.2,134.3 660.0,134.2 661.9,133.1 C663.8,132.0 665.5,129.9 667.8,127.8 C670.1,125.7 673.1,122.5 675.5,120.5 C677.9,118.5 680.2,117.1 682.3,115.6 C684.4,114.0 685.9,112.3 688.2,111.2 C690.5,110.1 693.3,109.4 695.9,108.8 C698.5,108.2 701.4,107.6 703.7,107.4 C706.0,107.2 707.6,107.3 709.5,107.4 C711.4,107.5 711.9,107.5 715.0,107.8 C718.1,108.1 724.0,108.6 727.9,109.4 C731.8,110.2 735.6,110.9 738.3,112.5 C741.1,114.1 742.5,116.1 744.6,118.8 C746.7,121.4 748.9,126.0 750.8,128.1 C752.7,130.3 754.1,131.1 756.0,131.7 C758.0,132.2 760.0,132.0 762.3,131.2 C764.5,130.5 767.0,129.3 769.6,127.1 C772.2,124.8 774.4,121.6 777.9,117.7 C781.4,113.9 786.6,107.5 790.4,104.0 C794.2,100.5 797.4,98.9 800.8,96.7 C804.3,94.4 807.8,92.3 811.2,90.4 C814.7,88.5 818.5,86.3 821.7,85.2 C824.8,84.1 827.4,83.4 830.0,83.8 C832.6,84.1 834.9,87.4 837.3,87.3 C839.7,87.2 842.0,84.5 844.6,83.1 C847.2,81.7 850.5,79.5 852.9,79.0 C855.3,78.4 856.9,79.3 859.2,80.0 C861.4,80.7 865.2,82.6 866.5,83.1" stroke="#ffa500" stroke-width="1" fill="none"/>
<clipPath id="mp"><rect x="1" y="32" width="951" height="645"/></clipPath>
<g fill="none" clip-path="url(#mp)">
<line x1="209.4" y1="238.5" x2="930" y2="166" stroke="#a8a8a8" stroke-width="1"/>
<g stroke="#a9a9a9" stroke-width="2.2" stroke-dasharray="6 2">
<line x1="109.8" y1="279.1" x2="518" y2="90.5"/>
<line x1="85.8" y1="354.2" x2="493" y2="163.4"/>
<line x1="489.8" y1="219.1" x2="908" y2="30.2"/>
<line x1="725.8" y1="194.2" x2="951" y2="91.3"/>
</g>
<g stroke="#dc143c" stroke-width="1.0">
<line x1="509.3" y1="142.9" x2="951" y2="30.2"/>
<line x1="473.6" y1="212.4" x2="951.5" y2="76.6"/>
<line x1="757.5" y1="670.5" x2="897.9" y2="643.2"/>
</g>
</g>
<text x="3.2" y="385" font-size="11" fill="#000" text-anchor="start" font-family="Liberation Sans, Arial, sans-serif" textLength="125.6" lengthAdjust="spacing" >Earl(^COMP (Daily),11,8)</text>
<text x="3.2" y="497" font-size="11" fill="#000" text-anchor="start" font-family="Liberation Sans, Arial, sans-serif" textLength="122.4" lengthAdjust="spacing" >Earl2(^COMP (Daily),40)</text>
<text x="3.5" y="609" font-size="11" fill="#000" text-anchor="start" font-family="Liberation Sans, Arial, sans-serif" textLength="104.8" lengthAdjust="spacing" >MoM(^COMP (Daily))</text>
<text x="3" y="671.5" font-size="11" fill="#000" text-anchor="start" font-family="Liberation Sans, Arial, sans-serif" textLength="123.7" lengthAdjust="spacing" >&#169; 2015 NinjaTrader, LLC</text>
<path d="M7.6,433.5 C8.5,432.2 11.0,428.4 13.0,425.9 C15.0,423.4 17.5,420.3 19.5,418.3 C21.5,416.3 23.3,414.8 24.9,414.0 C26.5,413.1 27.6,413.2 29.2,413.3 C30.9,413.4 32.8,413.9 34.6,414.6 C36.5,415.4 38.3,416.4 40.1,417.9 C41.9,419.4 43.7,421.3 45.5,423.7 C47.3,426.1 49.1,429.8 50.9,432.4 C52.7,434.9 54.5,436.7 56.3,438.9 C58.1,441.0 60.1,443.9 61.7,445.4 C63.3,446.8 64.2,447.2 66.0,447.5 C67.8,447.9 70.6,448.1 72.5,447.5 C74.5,447.0 76.1,445.3 78.0,444.3 C79.8,443.3 81.6,441.9 83.4,441.7 C85.2,441.5 87.2,442.7 88.8,443.2 C90.4,443.7 91.7,445.1 93.1,444.7 C94.6,444.4 95.8,443.1 97.4,441.0 C99.1,439.0 101.0,435.4 102.9,432.4 C104.7,429.3 106.5,425.9 108.3,422.6 C110.1,419.4 112.1,415.6 113.7,412.9 C115.3,410.2 116.7,407.7 118.0,406.4 C119.3,405.1 120.0,404.7 121.3,404.9 C122.5,405.1 124.1,405.6 125.6,407.5 C127.0,409.3 128.3,413.1 129.9,416.1 C131.5,419.2 133.7,423.4 135.3,425.9 C137.0,428.4 138.2,430.2 139.7,431.3 C141.1,432.4 142.6,432.4 144.0,432.4 C145.4,432.4 146.7,431.2 148.3,431.3 C150.0,431.4 151.8,432.1 153.7,433.0 C155.7,433.9 158.3,435.2 160.2,436.7 C162.2,438.2 163.8,440.5 165.6,442.1 C167.5,443.7 169.4,445.9 171.1,446.4 C172.7,447.0 173.6,446.1 175.4,445.4 C177.2,444.6 179.7,443.0 181.9,442.1 C184.1,441.2 186.6,441.0 188.4,440.0 C190.2,438.9 191.3,437.8 192.7,435.6 C194.2,433.5 195.4,429.6 197.0,427.0 C198.7,424.4 200.7,421.5 202.5,420.0 C204.3,418.5 206.2,418.3 207.9,417.9 C209.5,417.4 211.0,417.3 212.2,417.4 C213.4,417.6 213.6,417.9 215.0,418.7 C216.4,419.6 218.6,421.1 220.4,422.6 C222.2,424.2 224.0,426.6 225.8,428.0 C227.6,429.5 229.4,429.7 231.2,431.3 C233.0,432.9 234.8,436.0 236.7,437.8 C238.5,439.6 240.4,441.8 242.1,442.1 C243.7,442.5 244.8,441.8 246.4,440.0 C248.0,438.1 250.0,434.2 251.8,431.3 C253.6,428.4 255.6,424.7 257.2,422.6 C258.8,420.5 260.1,419.5 261.6,418.7 C263.0,418.0 264.3,417.6 265.9,418.3 C267.5,418.9 269.5,420.6 271.3,422.6 C273.1,424.6 274.9,427.9 276.7,430.2 C278.5,432.6 280.3,435.1 282.1,436.7 C283.9,438.3 285.9,439.7 287.5,440.0 C289.2,440.2 290.2,438.8 291.9,438.2 C293.5,437.7 295.5,437.1 297.3,436.7 C299.1,436.3 300.9,436.9 302.7,436.1 C304.5,435.2 306.3,433.2 308.1,431.7 C309.9,430.2 311.7,428.0 313.5,427.0 C315.3,425.9 317.1,425.2 318.9,425.2 C320.7,425.3 322.5,426.0 324.4,427.4 C326.2,428.8 328.0,431.7 329.8,433.5 C331.6,435.2 333.4,437.5 335.2,437.8 C337.0,438.1 338.8,436.6 340.6,435.2 C342.4,433.7 344.2,431.0 346.0,429.1 C347.8,427.2 350.0,424.6 351.4,423.7 C352.9,422.8 353.2,423.0 354.7,423.7 C356.1,424.4 358.1,426.7 360.1,428.0 C362.1,429.4 364.6,430.8 366.6,431.7 C368.6,432.6 370.2,433.5 372.0,433.5 C373.8,433.5 375.6,432.0 377.4,431.7 C379.2,431.4 381.0,430.5 382.8,431.7 C384.6,432.9 386.2,436.2 388.2,438.9 C390.2,441.5 392.7,445.5 394.7,447.5 C396.7,449.6 398.5,451.0 400.1,451.2 C401.8,451.4 403.0,450.9 404.5,448.6 C405.9,446.4 407.2,442.1 408.8,437.8 C410.4,433.5 412.4,426.8 414.2,422.6 C416.0,418.5 418.0,415.0 419.6,412.9 C421.2,410.8 422.5,410.3 424.0,410.1 C425.4,409.8 427.3,411.0 428.3,411.4 C429.3,411.7 428.6,411.1 430.0,412.2 C431.4,413.4 434.3,416.4 436.5,418.3 C438.7,420.2 441.0,421.5 443.0,423.7 C445.0,425.9 446.6,428.8 448.4,431.3 C450.2,433.8 452.0,437.0 453.8,438.9 C455.6,440.7 457.4,441.8 459.2,442.6 C461.0,443.3 462.8,442.4 464.6,443.2 C466.5,444.0 468.5,446.3 470.1,447.5 C471.6,448.7 472.5,450.6 474.0,450.3 C475.4,450.1 477.0,447.3 478.7,446.0 C480.4,444.7 482.3,443.0 484.1,442.6 C485.9,442.1 487.7,442.7 489.5,443.2 C491.4,443.7 493.3,445.4 495.0,445.4 C496.6,445.4 497.7,445.0 499.3,443.2 C500.9,441.4 502.9,437.5 504.7,434.5 C506.5,431.5 508.3,427.5 510.1,425.2 C511.9,423.0 513.7,421.9 515.5,420.9 C517.3,419.9 519.3,419.5 520.9,419.4 C522.6,419.3 523.7,419.7 525.3,420.5 C526.9,421.2 528.9,422.9 530.7,423.7 C532.5,424.5 534.3,425.0 536.1,425.4 C537.9,425.9 539.7,426.4 541.5,426.3 C543.3,426.2 545.1,425.8 546.9,424.8 C548.7,423.7 550.5,421.5 552.3,420.0 C554.1,418.5 556.1,416.6 557.8,415.7 C559.4,414.8 560.5,414.7 562.1,414.6 C563.7,414.5 565.7,414.8 567.5,415.1 C569.3,415.3 571.1,415.3 572.9,416.1 C574.7,417.0 576.5,418.4 578.3,420.0 C580.1,421.7 581.9,424.3 583.7,425.9 C585.5,427.5 587.3,428.5 589.2,429.6 C591.0,430.6 592.8,431.7 594.6,432.4 C596.4,433.0 598.2,433.6 600.0,433.5 C601.8,433.3 603.8,432.2 605.4,431.7 C607.0,431.3 608.1,430.6 609.7,430.9 C611.3,431.1 613.3,432.5 615.1,433.5 C616.9,434.4 618.7,435.6 620.6,436.7 C622.4,437.8 624.3,439.4 626.0,440.0 C627.6,440.5 628.7,440.5 630.3,440.0 C631.9,439.4 633.9,437.6 635.7,436.7 C637.5,435.8 639.6,434.7 641.1,434.5 C642.7,434.4 643.5,434.6 645.0,435.6 C646.5,436.6 648.6,438.9 650.4,440.4 C652.2,441.8 654.0,444.5 655.8,444.3 C657.6,444.0 659.4,441.2 661.2,438.9 C663.0,436.5 664.8,433.1 666.7,430.2 C668.5,427.3 670.3,423.9 672.1,421.5 C673.9,419.2 675.9,417.3 677.5,416.1 C679.1,415.0 680.2,414.4 681.8,414.6 C683.4,414.8 685.4,415.9 687.2,417.2 C689.0,418.6 690.8,420.8 692.6,422.6 C694.4,424.4 696.2,426.2 698.1,428.0 C699.9,429.8 701.7,431.8 703.5,433.5 C705.3,435.1 707.1,436.8 708.9,437.8 C710.7,438.8 712.5,439.0 714.3,439.5 C716.1,440.1 717.9,440.5 719.7,441.0 C721.5,441.5 723.3,442.0 725.1,442.6 C726.9,443.1 728.7,444.0 730.5,444.3 C732.3,444.6 734.1,444.4 735.9,444.3 C737.7,444.2 739.6,443.3 741.4,443.9 C743.2,444.4 745.0,446.1 746.8,447.5 C748.6,449.0 750.7,452.0 752.2,452.5 C753.6,453.1 754.2,452.9 755.4,450.8 C756.7,448.7 758.3,444.5 759.8,440.0 C761.2,435.4 762.7,428.9 764.1,423.7 C765.5,418.5 767.0,412.7 768.4,408.6 C769.9,404.4 771.5,401.2 772.8,398.8 C774.0,396.4 775.0,395.1 776.0,394.0 C777.0,393.0 777.7,392.2 778.8,392.3 C779.9,392.5 781.2,393.3 782.5,394.9 C783.8,396.5 785.2,399.1 786.8,402.1 C788.5,405.1 790.4,409.5 792.2,412.9 C794.0,416.3 796.0,419.9 797.7,422.6 C799.3,425.3 800.5,427.5 802.0,429.1 C803.4,430.8 804.7,431.6 806.3,432.4 C807.9,433.2 809.9,433.5 811.7,433.9 C813.5,434.3 815.3,434.1 817.1,434.5 C819.0,435.0 820.8,435.6 822.6,436.7 C824.4,437.8 826.2,439.2 828.0,441.0 C829.8,442.8 831.8,445.7 833.4,447.5 C835.0,449.3 836.8,451.0 837.7,451.9 C838.6,452.7 837.5,454.0 838.9,452.6 C840.2,451.3 843.2,447.7 845.6,443.8 C848.1,439.8 851.4,432.0 853.4,429.2 C855.4,426.4 856.3,426.7 857.6,426.9 C858.9,427.0 860.1,428.9 861.2,430.2 C862.4,431.5 863.3,433.6 864.4,434.9 C865.5,436.1 867.2,437.2 867.7,437.7" stroke="#7cfc00" stroke-width="0.95" fill="none" stroke-linejoin="round" stroke-linecap="round"/>
<path d="M8.0,423.3 C8.7,421.8 10.9,416.0 11.9,414.4 C12.9,412.8 12.8,415.1 14.1,414.0 C15.3,412.8 17.9,408.8 19.5,407.5 C21.0,406.1 21.9,405.2 23.4,405.7 C24.8,406.3 26.6,409.2 28.1,410.7 C29.7,412.3 31.2,413.5 32.5,415.1 C33.7,416.6 34.7,418.9 35.7,420.0 C36.7,421.1 37.6,420.6 38.5,421.5 C39.5,422.5 40.6,423.7 41.6,425.9 C42.5,428.0 43.4,431.7 44.4,434.5 C45.4,437.4 46.4,441.0 47.6,443.2 C48.9,445.4 50.5,446.4 52.0,447.5 C53.4,448.6 55.0,449.1 56.3,449.7 C57.6,450.3 58.6,450.2 59.5,451.2 C60.4,452.2 61.1,454.6 61.7,455.5 C62.4,456.4 62.7,457.1 63.4,456.6 C64.2,456.2 65.1,454.5 66.0,452.9 C66.9,451.4 67.8,448.3 68.9,447.1 C69.9,445.9 71.4,446.7 72.5,446.0 C73.7,445.4 74.8,444.5 75.8,443.2 C76.8,441.9 77.5,440.0 78.4,438.2 C79.3,436.4 80.4,432.6 81.2,432.4 C82.0,432.1 82.6,434.9 83.4,436.7 C84.1,438.5 84.8,441.2 85.5,443.2 C86.3,445.2 87.0,447.3 87.7,448.6 C88.4,449.9 89.1,451.0 89.9,451.2 C90.6,451.4 91.1,451.6 92.0,449.7 C92.9,447.8 94.2,443.6 95.3,440.0 C96.4,436.3 97.4,431.8 98.5,428.0 C99.6,424.3 100.7,420.5 101.8,417.2 C102.9,414.0 103.9,410.9 105.0,408.6 C106.1,406.2 107.2,404.9 108.3,403.1 C109.4,401.3 110.6,399.2 111.5,397.7 C112.4,396.2 113.0,394.9 113.7,394.0 C114.3,393.2 114.7,392.6 115.4,392.7 C116.1,392.9 117.2,393.7 118.0,394.9 C118.8,396.1 119.5,397.6 120.2,399.9 C120.9,402.2 121.4,404.9 122.3,408.6 C123.2,412.2 124.6,417.8 125.6,421.5 C126.6,425.3 127.3,428.6 128.2,431.3 C129.1,434.0 130.0,436.1 131.0,437.8 C132.0,439.5 133.2,440.7 134.3,441.7 C135.3,442.7 136.5,443.9 137.5,443.9 C138.5,443.9 139.4,443.1 140.3,441.7 C141.2,440.3 142.0,437.4 142.9,435.6 C143.8,433.8 144.8,431.8 145.5,430.9 C146.2,429.9 146.5,429.5 147.2,429.8 C148.0,430.0 148.8,431.2 149.8,432.4 C150.9,433.5 152.1,435.6 153.3,436.7 C154.5,437.8 155.8,438.1 157.0,438.9 C158.1,439.6 159.3,439.6 160.2,441.0 C161.2,442.5 161.9,445.4 162.8,447.5 C163.7,449.7 164.6,452.7 165.6,454.0 C166.7,455.4 168.0,456.1 168.9,455.8 C169.8,455.4 170.3,453.6 171.1,451.9 C171.8,450.1 172.5,447.4 173.2,445.4 C174.0,443.3 174.5,440.4 175.4,439.5 C176.3,438.6 177.7,440.1 178.6,440.0 C179.5,439.8 179.9,439.2 180.8,438.9 C181.7,438.6 183.0,439.1 184.1,438.2 C185.1,437.3 186.2,435.5 187.3,433.5 C188.4,431.4 189.5,428.6 190.6,425.9 C191.6,423.2 192.7,419.9 193.8,417.2 C194.9,414.6 196.1,411.5 197.0,410.1 C198.0,408.6 198.7,408.4 199.6,408.6 C200.5,408.7 201.5,409.8 202.5,410.7 C203.4,411.6 204.2,413.4 205.3,414.0 C206.4,414.6 207.9,414.0 209.0,414.4 C210.0,414.8 210.8,414.9 211.8,416.1 C212.8,417.3 214.1,419.7 215.0,421.5 C215.9,423.4 216.3,425.3 217.2,427.0 C218.1,428.7 219.3,430.3 220.4,431.7 C221.5,433.2 222.6,435.2 223.7,435.6 C224.7,436.1 225.8,434.5 226.9,434.5 C228.0,434.5 229.1,434.9 230.2,435.6 C231.2,436.3 232.5,437.2 233.4,438.9 C234.3,440.5 234.9,443.0 235.6,445.4 C236.2,447.7 236.7,451.4 237.3,452.9 C237.9,454.5 238.6,455.0 239.3,454.5 C239.9,453.9 240.6,452.1 241.4,449.7 C242.2,447.3 243.2,443.4 244.2,440.0 C245.2,436.5 246.4,432.9 247.5,429.1 C248.6,425.3 249.6,420.6 250.7,417.2 C251.8,413.8 253.1,410.4 254.0,408.6 C254.9,406.8 255.2,406.4 256.1,406.4 C257.0,406.4 258.3,407.3 259.4,408.6 C260.5,409.8 261.6,412.0 262.6,414.0 C263.7,416.0 264.8,417.9 265.9,420.5 C267.0,423.0 268.1,426.4 269.1,429.1 C270.2,431.8 271.3,434.8 272.4,436.7 C273.5,438.6 274.7,439.2 275.6,440.4 C276.5,441.6 277.1,442.6 277.8,443.9 C278.5,445.1 279.2,447.2 280.0,448.2 C280.8,449.2 281.7,449.6 282.6,449.7 C283.5,449.8 284.4,450.1 285.4,448.6 C286.4,447.2 287.6,443.4 288.6,441.0 C289.6,438.7 290.4,436.0 291.2,434.5 C292.0,433.1 292.6,432.4 293.4,432.4 C294.2,432.4 295.2,434.2 296.2,434.5 C297.2,434.9 298.4,435.1 299.4,434.5 C300.5,434.0 301.6,432.7 302.7,431.3 C303.8,429.8 304.9,427.8 305.9,425.9 C307.0,424.0 308.2,421.2 309.2,420.0 C310.2,418.8 310.9,418.6 311.8,418.7 C312.7,418.9 313.7,419.8 314.6,420.9 C315.5,422.0 316.3,424.3 317.2,425.2 C318.1,426.2 319.1,426.1 320.0,426.5 C321.0,426.9 321.9,426.6 322.8,427.6 C323.7,428.6 324.6,430.4 325.4,432.4 C326.3,434.4 327.1,437.5 328.0,439.5 C328.9,441.6 330.0,443.7 330.8,444.7 C331.7,445.7 332.2,446.0 333.0,445.4 C333.8,444.8 334.9,443.2 335.8,441.0 C336.8,438.9 337.9,435.3 338.9,432.4 C339.8,429.5 340.7,426.3 341.7,423.7 C342.6,421.1 343.6,418.1 344.5,416.6 C345.4,415.1 346.1,414.7 347.1,414.6 C348.1,414.5 349.3,415.0 350.3,416.1 C351.3,417.3 352.2,419.4 353.1,421.5 C354.1,423.7 354.9,426.9 355.7,429.1 C356.6,431.4 357.3,433.8 358.3,435.2 C359.4,436.6 360.7,436.9 361.8,437.4 C362.9,437.8 363.9,437.4 364.8,437.8 C365.8,438.1 366.8,439.3 367.7,439.5 C368.5,439.7 369.0,439.7 369.8,438.9 C370.7,438.0 371.7,435.9 372.6,434.5 C373.5,433.2 374.3,431.8 375.2,430.9 C376.2,429.9 377.6,429.3 378.5,428.7 C379.4,428.1 379.9,426.8 380.6,427.4 C381.4,428.0 382.1,430.1 382.8,432.4 C383.5,434.6 384.2,438.0 385.0,441.0 C385.8,444.1 387.0,448.1 387.8,450.8 C388.6,453.5 389.2,456.0 390.0,457.3 C390.7,458.5 391.5,458.5 392.1,458.4 C392.7,458.2 393.0,456.1 393.6,456.2 C394.3,456.3 394.9,458.5 395.8,459.0 C396.7,459.5 398.2,459.9 399.1,459.4 C400.0,459.0 400.5,458.4 401.2,456.2 C401.9,454.0 402.6,450.6 403.4,446.4 C404.2,442.3 405.1,436.5 406.0,431.3 C406.9,426.1 407.9,419.9 408.8,415.1 C409.7,410.2 410.7,405.3 411.6,402.1 C412.5,398.8 413.5,396.9 414.2,395.6 C414.9,394.2 415.2,393.7 415.9,393.8 C416.7,393.9 418.0,394.8 419.0,396.2 C420.0,397.6 420.8,400.0 421.8,402.1 C422.8,404.1 424.0,406.4 425.0,408.6 C426.1,410.7 427.5,413.5 428.3,415.1 C429.1,416.6 429.4,416.4 430.0,417.9 C430.6,419.3 431.4,422.0 432.2,423.7 C433.0,425.4 433.7,427.1 434.8,428.0 C435.8,429.0 437.3,428.7 438.7,429.6 C440.0,430.5 441.6,431.5 443.0,433.5 C444.4,435.4 445.6,438.3 446.9,441.0 C448.2,443.7 449.5,447.4 450.6,449.7 C451.7,452.0 452.5,454.5 453.4,454.7 C454.3,454.9 455.0,452.3 456.0,450.8 C457.0,449.2 458.3,446.6 459.2,445.4 C460.1,444.1 460.5,443.0 461.4,443.2 C462.3,443.4 463.7,445.0 464.6,446.4 C465.6,447.9 466.4,450.1 467.2,451.9 C468.1,453.6 468.9,455.8 469.6,456.8 C470.3,457.9 470.9,458.6 471.6,458.4 C472.3,458.1 473.0,457.7 473.7,455.5 C474.5,453.4 475.2,448.7 475.9,445.4 C476.6,442.0 477.4,437.9 478.1,435.6 C478.7,433.4 479.2,432.1 479.8,431.9 C480.5,431.8 481.2,433.2 482.0,434.5 C482.7,435.9 483.5,438.6 484.1,440.0 C484.8,441.3 485.3,442.4 485.9,442.6 C486.4,442.7 486.8,440.4 487.4,440.6 C488.0,440.8 488.8,442.5 489.5,443.9 C490.3,445.2 491.0,447.4 491.7,448.6 C492.4,449.8 493.2,450.8 493.9,451.2 C494.5,451.6 495.0,452.0 495.6,451.2 C496.2,450.4 496.9,448.9 497.6,446.4 C498.2,444.0 498.9,440.9 499.7,436.7 C500.6,432.6 501.6,425.7 502.5,421.5 C503.5,417.4 504.5,414.0 505.4,411.8 C506.2,409.6 506.8,408.6 507.5,408.1 C508.2,407.7 508.9,408.2 509.7,409.2 C510.5,410.2 511.4,412.8 512.3,414.0 C513.1,415.1 513.8,415.8 514.9,416.1 C516.0,416.5 517.6,416.0 518.8,416.1 C520.0,416.2 521.1,416.0 522.0,416.8 C522.9,417.6 523.4,419.0 524.2,420.9 C525.0,422.8 526.2,426.1 527.0,428.0 C527.8,430.0 528.4,432.2 529.2,432.4 C530.0,432.6 530.9,430.1 531.8,429.1 C532.6,428.2 533.5,426.9 534.4,426.5 C535.3,426.2 536.2,426.7 537.2,427.0 C538.1,427.2 539.1,428.0 540.0,428.0 C540.9,428.0 541.6,427.2 542.6,427.0 C543.6,426.7 544.8,427.2 545.8,426.3 C546.9,425.4 547.8,423.6 548.7,421.5 C549.6,419.5 550.4,416.0 551.3,414.0 C552.1,412.0 553.0,410.8 553.9,409.6 C554.7,408.5 555.5,407.3 556.2,407.0 C557.0,406.8 557.6,407.0 558.4,407.9 C559.2,408.8 560.0,410.8 561.0,412.2 C562.0,413.7 563.0,416.0 564.3,416.8 C565.5,417.6 567.3,417.1 568.6,417.2 C569.8,417.3 570.8,416.3 571.8,417.2 C572.8,418.1 573.7,420.6 574.6,422.6 C575.5,424.6 576.4,427.2 577.2,429.1 C578.1,431.0 579.0,432.8 579.8,433.9 C580.6,435.0 581.0,435.3 582.0,435.6 C583.0,435.9 584.7,435.6 585.9,435.6 C587.1,435.6 588.1,435.3 589.2,435.6 C590.2,435.9 590.9,437.1 592.0,437.4 C593.1,437.6 594.5,437.6 595.6,437.4 C596.8,437.1 597.8,436.6 598.9,435.6 C600.0,434.6 601.1,432.9 602.1,431.3 C603.2,429.7 604.1,426.9 605.0,425.9 C605.8,424.9 606.4,424.5 607.1,425.2 C607.8,426.0 608.5,428.3 609.3,430.2 C610.1,432.1 610.9,434.7 611.9,436.7 C612.9,438.7 614.1,441.0 615.1,442.1 C616.1,443.2 617.1,442.9 618.0,443.2 C618.8,443.5 619.5,444.0 620.1,443.9 C620.7,443.7 621.1,442.3 621.6,442.6 C622.2,442.8 622.6,445.1 623.4,445.4 C624.1,445.6 625.0,444.8 626.0,443.9 C626.9,442.9 628.1,441.5 629.2,440.0 C630.3,438.4 631.5,436.1 632.5,434.5 C633.5,433.0 634.4,431.5 635.3,430.9 C636.2,430.2 636.9,430.5 637.9,430.6 C638.8,430.8 640.2,430.7 641.1,431.7 C642.0,432.7 642.6,435.5 643.3,436.7 C643.9,437.9 644.3,437.4 645.0,438.9 C645.7,440.3 646.7,443.8 647.6,445.4 C648.5,446.9 649.5,447.5 650.4,448.2 C651.4,448.9 652.3,450.2 653.2,449.7 C654.1,449.2 654.9,447.7 655.8,445.4 C656.8,443.0 658.0,438.9 659.1,435.6 C660.2,432.4 661.2,428.9 662.3,425.9 C663.4,422.8 664.5,419.9 665.6,417.2 C666.7,414.5 667.8,411.6 668.8,409.6 C669.8,407.7 670.6,406.1 671.4,405.3 C672.2,404.5 672.9,404.4 673.8,404.7 C674.7,404.9 676.0,406.0 677.0,407.0 C678.1,408.0 679.1,409.2 680.1,410.7 C681.1,412.2 682.0,414.4 682.9,416.1 C683.8,417.8 684.8,419.5 685.7,420.9 C686.6,422.3 687.3,422.7 688.3,424.4 C689.3,426.0 690.5,429.1 691.6,430.9 C692.6,432.7 693.8,434.0 694.8,435.2 C695.8,436.4 696.5,437.4 697.4,438.2 C698.3,439.0 699.3,439.4 700.2,440.0 C701.2,440.5 702.1,441.0 703.0,441.7 C703.9,442.4 704.8,443.7 705.6,444.3 C706.5,444.9 707.3,445.4 708.2,445.4 C709.1,445.4 710.1,445.1 711.0,444.3 C712.0,443.5 713.0,440.7 713.9,440.4 C714.7,440.0 715.3,441.5 716.0,442.1 C716.7,442.7 717.6,443.7 718.2,443.9 C718.8,444.0 719.1,442.9 719.7,443.2 C720.3,443.5 721.0,445.4 721.9,445.8 C722.8,446.2 724.2,446.0 725.1,445.8 C726.0,445.6 726.5,444.6 727.3,444.7 C728.1,444.8 729.1,446.0 729.9,446.4 C730.7,446.9 731.3,447.7 732.0,447.5 C732.8,447.4 733.6,446.1 734.2,445.4 C734.9,444.6 735.4,443.4 735.9,443.2 C736.5,443.0 737.1,444.5 737.7,444.3 C738.3,444.1 739.0,442.7 739.6,442.1 C740.2,441.6 740.8,440.5 741.4,441.0 C741.9,441.6 742.3,443.4 742.9,445.4 C743.5,447.4 744.3,450.7 745.0,452.9 C745.8,455.2 746.4,457.5 747.2,459.0 C748.0,460.6 748.9,461.9 749.6,462.3 C750.3,462.6 750.8,462.5 751.5,461.2 C752.2,459.8 753.0,457.2 753.7,454.0 C754.4,450.9 755.1,446.6 755.9,442.1 C756.6,437.6 757.3,432.2 758.0,427.0 C758.8,421.7 759.4,416.5 760.2,410.7 C761.0,404.9 762.1,397.2 763.0,392.3 C764.0,387.4 764.9,384.3 765.8,381.5 C766.7,378.7 767.6,376.6 768.4,375.4 C769.3,374.2 770.1,374.2 771.0,374.3 C771.9,374.5 773.0,375.1 773.8,376.1 C774.7,377.1 775.2,378.1 776.0,380.4 C776.8,382.8 777.9,386.7 778.8,390.1 C779.7,393.6 780.4,397.0 781.4,401.0 C782.4,404.9 783.6,410.2 784.7,414.0 C785.7,417.8 786.8,420.8 787.9,423.7 C789.0,426.6 790.1,429.1 791.2,431.3 C792.2,433.5 793.3,435.2 794.4,436.7 C795.5,438.2 796.6,439.4 797.7,440.4 C798.7,441.4 799.9,442.0 800.9,442.6 C801.9,443.1 802.6,444.3 803.5,443.9 C804.4,443.4 805.4,441.3 806.3,440.0 C807.2,438.6 808.1,436.7 808.9,435.6 C809.7,434.5 810.5,433.5 811.3,433.5 C812.1,433.5 812.9,434.9 813.9,435.6 C814.9,436.3 816.1,437.1 817.1,437.8 C818.2,438.4 819.3,438.9 820.4,439.5 C821.5,440.2 822.6,440.7 823.6,441.7 C824.7,442.7 825.6,444.0 826.5,445.4 C827.4,446.7 828.2,448.1 829.1,449.7 C829.9,451.3 830.9,453.3 831.7,455.1 C832.4,456.9 833.2,459.0 833.8,460.5 C834.5,462.0 835.0,463.6 835.6,464.2 C836.1,464.9 836.7,465.4 837.3,464.4 C837.8,463.4 838.2,461.2 838.8,458.4 C839.4,455.5 840.2,451.3 841.0,447.5 C841.7,443.7 842.4,439.2 843.1,435.6 C843.9,432.0 844.5,428.8 845.3,425.9 C846.1,422.9 847.3,419.9 848.1,417.9 C848.9,415.9 849.6,414.9 850.3,414.0 C850.9,413.1 851.2,412.2 851.9,412.5 C852.6,412.8 853.5,413.9 854.5,415.6 C855.4,417.4 856.8,420.5 857.6,422.9 C858.4,425.3 858.6,427.6 859.2,430.2 C859.7,432.8 860.2,436.0 860.7,438.5 C861.2,441.1 861.8,443.4 862.3,445.3 C862.8,447.2 863.0,449.7 863.5,450.0 C864.1,450.3 864.9,448.2 865.6,447.4 C866.3,446.6 867.4,445.4 867.7,445.0" stroke="#4169e1" stroke-width="2.15" fill="none" stroke-linejoin="round" stroke-linecap="round"/>
<path d="M7.6,532.5 C8.7,532.4 11.7,532.7 14.1,532.0 C16.4,531.4 19.1,530.0 21.7,528.6 C24.2,527.1 26.7,525.1 29.2,523.4 C31.8,521.7 34.3,519.9 36.8,518.4 C39.3,516.8 41.9,515.1 44.4,514.1 C46.9,513.0 49.6,512.6 52.0,512.3 C54.3,512.1 56.3,512.1 58.5,512.5 C60.6,513.0 62.6,514.0 65.0,515.1 C67.3,516.3 70.0,518.0 72.5,519.5 C75.1,521.0 77.8,522.5 80.1,524.2 C82.5,526.0 84.4,528.1 86.6,529.9 C88.8,531.7 90.9,533.6 93.1,535.1 C95.3,536.5 97.4,537.8 99.6,538.5 C101.8,539.2 103.9,539.6 106.1,539.4 C108.3,539.2 110.4,538.4 112.6,537.2 C114.8,536.1 116.9,534.0 119.1,532.5 C121.3,530.9 123.2,529.5 125.6,528.1 C127.9,526.8 130.6,525.3 133.2,524.2 C135.7,523.2 138.2,522.5 140.7,521.6 C143.3,520.8 145.8,519.6 148.3,519.0 C150.9,518.5 153.4,518.3 155.9,518.2 C158.4,518.1 161.0,517.8 163.5,518.4 C166.0,519.0 168.5,520.4 171.1,521.6 C173.6,522.9 176.1,524.5 178.6,526.0 C181.2,527.5 183.7,529.5 186.2,530.7 C188.7,531.9 191.5,532.8 193.8,533.1 C196.1,533.4 198.1,532.6 200.3,532.5 C202.5,532.3 204.6,532.6 206.8,532.0 C209.0,531.5 211.9,529.8 213.3,529.2 C214.7,528.6 213.3,529.0 215.0,528.6 C216.7,528.1 220.8,526.9 223.7,526.4 C226.5,525.9 229.4,525.2 232.3,525.3 C235.2,525.4 238.1,526.7 241.0,527.1 C243.9,527.4 246.8,528.0 249.6,527.7 C252.5,527.4 255.4,526.3 258.3,525.3 C261.2,524.4 264.1,522.9 267.0,522.1 C269.9,521.2 272.7,520.3 275.6,520.1 C278.5,520.0 281.4,520.7 284.3,521.2 C287.2,521.7 290.1,522.7 293.0,523.4 C295.8,524.1 298.4,525.0 301.6,525.3 C304.9,525.7 308.8,525.5 312.4,525.5 C316.0,525.6 320.0,525.3 323.3,525.5 C326.5,525.8 329.0,526.5 331.9,527.1 C334.8,527.6 337.7,528.5 340.6,528.6 C343.5,528.6 346.4,527.8 349.3,527.5 C352.1,527.1 355.0,526.7 357.9,526.4 C360.8,526.1 363.7,526.0 366.6,526.0 C369.5,525.9 372.3,525.9 375.2,526.0 C378.1,526.0 381.4,525.8 383.9,526.4 C386.4,527.1 388.2,528.5 390.4,529.9 C392.6,531.2 394.7,533.0 396.9,534.6 C399.1,536.2 401.2,538.2 403.4,539.4 C405.6,540.5 407.9,541.3 409.9,541.6 C411.9,541.8 413.5,541.3 415.3,540.7 C417.1,540.1 418.7,538.9 420.7,537.9 C422.7,536.9 425.7,535.4 427.2,534.6 C428.8,533.9 428.3,534.4 430.0,533.5 C431.7,532.6 435.1,530.5 437.6,529.2 C440.1,528.0 442.6,526.6 445.2,526.0 C447.7,525.3 450.2,525.4 452.7,525.3 C455.3,525.2 458.0,525.1 460.3,525.5 C462.7,526.0 464.6,527.0 466.8,528.1 C469.0,529.3 471.0,531.1 473.3,532.5 C475.7,533.8 478.4,534.8 480.9,536.4 C483.4,537.9 485.9,539.6 488.5,541.6 C491.0,543.5 493.5,546.3 496.0,548.1 C498.6,549.8 500.9,551.1 503.6,552.0 C506.3,552.9 509.4,553.5 512.3,553.5 C515.2,553.5 518.1,552.6 520.9,552.0 C523.8,551.3 526.7,550.7 529.6,549.8 C532.5,548.9 535.4,547.7 538.3,546.5 C541.2,545.4 544.2,544.3 546.9,542.9 C549.6,541.4 552.0,539.8 554.5,537.9 C557.0,536.0 559.6,533.7 562.1,531.4 C564.6,529.0 567.1,526.2 569.7,523.8 C572.2,521.4 574.7,518.9 577.2,516.9 C579.8,514.9 582.3,513.3 584.8,511.9 C587.3,510.5 589.7,509.5 592.4,508.6 C595.1,507.7 598.4,507.2 601.1,506.5 C603.8,505.8 606.3,504.6 608.6,504.3 C611.0,504.0 613.0,504.4 615.1,504.7 C617.3,505.1 619.5,505.8 621.6,506.5 C623.8,507.2 625.8,508.2 628.1,509.1 C630.5,510.0 633.2,510.8 635.7,511.9 C638.2,513.0 641.7,514.9 643.3,515.6 C644.8,516.2 643.4,514.8 645.0,515.9 C646.6,516.9 650.3,519.9 652.9,522.0 C655.6,524.1 658.2,527.0 660.8,528.3 C663.5,529.7 666.1,530.0 668.8,530.1 C671.4,530.3 674.1,529.5 676.7,529.0 C679.3,528.5 682.0,527.9 684.6,527.2 C687.3,526.5 689.9,525.6 692.5,524.9 C695.2,524.3 697.8,523.4 700.5,523.1 C703.1,522.9 705.7,522.9 708.4,523.4 C711.0,523.8 713.7,524.8 716.3,525.6 C719.0,526.4 721.6,527.1 724.2,528.3 C726.9,529.5 729.5,531.3 732.2,532.9 C734.8,534.4 737.4,535.4 740.1,537.4 C742.7,539.3 745.5,542.4 748.0,544.6 C750.5,546.9 752.5,549.4 754.8,551.0 C757.1,552.5 759.3,553.7 761.6,553.9 C763.8,554.1 766.1,553.5 768.4,552.1 C770.6,550.7 772.9,547.8 775.2,545.3 C777.4,542.9 779.7,540.1 782.0,537.4 C784.2,534.6 786.5,531.4 788.8,528.8 C791.0,526.1 793.1,523.8 795.5,521.5 C798.0,519.3 800.8,517.1 803.5,515.2 C806.1,513.3 808.7,511.5 811.4,510.2 C814.0,508.9 816.9,508.0 819.3,507.5 C821.8,507.0 824.0,507.0 826.1,507.3 C828.2,507.5 829.9,508.1 831.8,509.1 C833.6,510.0 835.5,511.7 837.4,512.9 C839.3,514.2 841.0,515.6 843.1,516.6 C845.2,517.5 847.6,518.1 849.9,518.8 C852.1,519.5 854.6,520.0 856.7,520.9 C858.7,521.7 860.6,522.8 862.3,523.8 C864.0,524.8 866.1,526.3 866.9,526.7" stroke="#b22222" stroke-width="1.0" fill="none" stroke-linejoin="round" stroke-linecap="round"/>
<path d="M8.0,539.4 C8.8,538.9 11.3,537.8 13.0,536.4 C14.7,534.9 16.6,533.0 18.4,530.7 C20.2,528.5 22.0,525.5 23.8,522.7 C25.6,519.9 27.4,516.8 29.2,514.1 C31.0,511.3 32.8,508.5 34.6,506.0 C36.5,503.6 38.4,501.1 40.1,499.6 C41.7,498.0 42.9,497.2 44.4,496.7 C45.8,496.3 47.3,496.4 48.7,496.7 C50.2,497.1 51.6,497.8 53.1,498.9 C54.5,500.0 55.9,501.6 57.4,503.2 C58.8,504.9 60.3,506.5 61.7,508.6 C63.2,510.8 64.6,513.7 66.0,516.2 C67.5,518.8 68.9,521.5 70.4,523.8 C71.8,526.1 73.1,528.1 74.7,530.3 C76.3,532.5 78.3,534.3 80.1,536.8 C81.9,539.2 83.7,542.5 85.5,545.0 C87.3,547.5 89.3,550.1 90.9,552.0 C92.6,553.8 93.8,554.8 95.3,555.9 C96.7,556.9 98.2,558.3 99.6,558.4 C101.0,558.6 102.5,557.6 103.9,556.7 C105.4,555.8 106.8,554.9 108.3,553.0 C109.7,551.2 111.2,548.3 112.6,545.5 C114.0,542.6 115.5,539.0 116.9,535.7 C118.4,532.5 119.8,528.9 121.3,526.0 C122.7,523.1 124.1,520.3 125.6,518.4 C127.0,516.5 128.3,515.8 129.9,514.7 C131.5,513.6 133.5,512.7 135.3,511.9 C137.1,511.1 138.9,510.5 140.7,509.7 C142.6,509.0 144.4,508.0 146.2,507.6 C148.0,507.2 149.8,507.1 151.6,507.3 C153.4,507.6 155.2,508.1 157.0,509.1 C158.8,510.1 160.6,511.5 162.4,513.4 C164.2,515.3 166.0,518.1 167.8,520.6 C169.6,523.0 171.4,525.7 173.2,528.1 C175.0,530.6 176.8,532.9 178.6,535.1 C180.4,537.2 182.3,539.6 184.1,541.1 C185.9,542.7 187.8,543.9 189.5,544.4 C191.1,544.8 192.4,544.4 193.8,543.9 C195.2,543.5 196.5,542.8 198.1,541.6 C199.8,540.4 201.7,538.5 203.5,536.8 C205.3,535.1 207.3,533.0 209.0,531.4 C210.6,529.8 212.3,528.1 213.3,527.3 C214.3,526.5 214.0,527.3 215.0,526.6 C216.0,526.0 217.7,524.3 219.3,523.4 C221.0,522.5 222.8,521.8 224.7,521.2 C226.7,520.6 229.4,519.8 231.2,519.9 C233.0,520.0 234.1,520.6 235.6,521.6 C237.0,522.6 238.5,524.8 239.9,526.0 C241.3,527.2 242.6,528.2 244.2,528.8 C245.9,529.3 248.0,529.7 249.6,529.2 C251.3,528.7 252.4,527.4 254.0,526.0 C255.6,524.5 257.6,522.3 259.4,520.6 C261.2,518.9 263.0,517.0 264.8,515.8 C266.6,514.6 268.6,513.8 270.2,513.4 C271.8,513.0 273.1,513.2 274.5,513.6 C276.0,514.1 277.3,515.1 278.9,516.2 C280.5,517.4 282.5,519.4 284.3,520.6 C286.1,521.7 287.9,522.4 289.7,523.4 C291.5,524.3 293.3,525.4 295.1,526.4 C296.9,527.4 298.5,528.7 300.5,529.2 C302.5,529.7 304.9,529.7 307.0,529.4 C309.2,529.2 311.4,528.3 313.5,527.7 C315.7,527.1 318.0,526.2 320.0,526.0 C322.0,525.8 323.6,525.9 325.4,526.4 C327.2,526.9 329.0,528.3 330.8,529.2 C332.7,530.2 334.5,531.5 336.3,532.0 C338.1,532.6 340.0,532.8 341.7,532.5 C343.3,532.2 344.4,531.3 346.0,530.3 C347.6,529.3 349.6,527.5 351.4,526.6 C353.2,525.7 354.8,525.2 356.8,524.9 C358.8,524.6 361.3,524.7 363.3,524.9 C365.3,525.1 366.8,525.7 368.7,526.0 C370.7,526.2 372.9,526.3 375.2,526.4 C377.6,526.5 380.8,525.8 382.8,526.4 C384.8,527.0 385.5,528.0 387.1,529.9 C388.8,531.8 390.8,535.1 392.6,537.9 C394.4,540.7 396.3,543.9 398.0,546.5 C399.6,549.2 401.0,552.1 402.3,553.7 C403.6,555.3 404.5,555.9 405.6,556.3 C406.6,556.7 407.7,556.6 408.8,556.3 C409.9,556.0 410.8,555.8 412.0,554.6 C413.3,553.3 414.8,551.1 416.4,548.7 C418.0,546.3 420.0,542.9 421.8,540.0 C423.6,537.2 425.8,533.7 427.2,531.4 C428.6,529.0 428.8,527.8 430.0,526.0 C431.2,524.2 432.7,522.3 434.3,520.6 C436.0,518.8 437.8,516.8 439.7,515.6 C441.7,514.3 444.4,513.0 446.2,513.0 C448.0,512.9 448.9,514.1 450.6,515.1 C452.2,516.2 454.2,517.8 456.0,519.0 C457.8,520.3 459.8,521.2 461.4,522.7 C463.0,524.2 464.3,526.0 465.7,528.1 C467.2,530.3 468.6,533.3 470.1,535.7 C471.5,538.2 472.8,540.8 474.4,542.9 C476.0,544.9 478.0,545.9 479.8,548.1 C481.6,550.2 483.4,553.6 485.2,555.9 C487.0,558.1 489.0,559.7 490.6,561.7 C492.3,563.6 493.5,566.0 495.0,567.5 C496.4,569.1 497.8,570.4 499.3,571.0 C500.7,571.7 502.2,571.8 503.6,571.4 C505.1,571.0 506.3,569.8 508.0,568.6 C509.6,567.5 511.6,566.0 513.4,564.5 C515.2,563.0 517.0,561.6 518.8,559.5 C520.6,557.5 522.4,554.4 524.2,552.4 C526.0,550.4 527.8,549.2 529.6,547.6 C531.4,546.0 533.2,544.4 535.0,542.9 C536.8,541.3 538.6,540.0 540.4,538.5 C542.2,537.1 544.2,535.9 545.8,534.2 C547.5,532.5 548.7,530.2 550.2,528.1 C551.6,526.0 553.1,523.9 554.5,521.6 C556.0,519.4 557.4,516.9 558.8,514.7 C560.3,512.5 561.7,510.6 563.2,508.6 C564.6,506.7 565.9,505.6 567.5,503.2 C569.1,500.9 571.1,496.7 572.9,494.6 C574.7,492.4 576.5,491.3 578.3,490.2 C580.1,489.2 582.1,488.5 583.7,488.1 C585.4,487.6 586.4,487.4 588.1,487.4 C589.7,487.5 591.7,487.9 593.5,488.5 C595.3,489.1 597.1,490.3 598.9,490.9 C600.7,491.5 602.9,491.9 604.3,492.2 C605.8,492.4 606.3,491.8 607.6,492.4 C608.8,493.0 610.3,494.2 611.9,495.7 C613.5,497.1 615.5,499.1 617.3,501.1 C619.1,503.1 620.9,505.4 622.7,507.6 C624.5,509.7 626.3,512.1 628.1,514.1 C629.9,516.0 631.7,517.9 633.5,519.5 C635.3,521.0 637.3,522.1 639.0,523.4 C640.6,524.7 642.3,526.4 643.3,527.3 C644.3,528.1 644.0,527.0 645.0,528.3 C646.0,529.6 648.0,532.9 649.5,535.1 C651.0,537.3 652.4,539.6 654.1,541.5 C655.8,543.3 657.8,545.5 659.7,546.4 C661.6,547.3 663.7,547.3 665.4,546.9 C667.1,546.5 668.4,545.4 669.9,544.2 C671.4,543.0 672.7,541.3 674.4,539.6 C676.1,538.0 678.2,536.2 680.1,534.0 C682.0,531.8 683.9,528.6 685.7,526.5 C687.6,524.4 689.5,522.7 691.4,521.5 C693.3,520.4 695.2,520.0 697.1,519.7 C699.0,519.4 700.8,519.4 702.7,519.7 C704.6,520.1 706.3,521.0 708.4,522.0 C710.5,523.0 712.9,524.2 715.2,525.6 C717.4,527.0 719.9,528.6 722.0,530.6 C724.0,532.6 725.7,535.1 727.6,537.4 C729.5,539.6 731.4,542.0 733.3,544.2 C735.2,546.4 737.2,548.6 738.9,550.5 C740.6,552.4 742.0,553.2 743.5,555.5 C745.0,557.8 746.5,561.7 748.0,564.6 C749.5,567.4 751.2,570.6 752.5,572.5 C753.9,574.4 754.8,575.3 755.9,575.9 C757.1,576.4 758.2,576.4 759.3,575.9 C760.5,575.3 761.4,574.5 762.7,572.5 C764.0,570.4 765.7,567.0 767.2,563.4 C768.8,559.8 770.3,555.5 771.8,551.0 C773.3,546.4 774.8,541.0 776.3,536.3 C777.8,531.5 779.3,527.0 780.8,522.7 C782.3,518.3 783.7,514.2 785.4,510.2 C787.1,506.3 789.1,502.1 791.0,498.9 C792.9,495.7 794.6,492.9 796.7,491.0 C798.7,489.0 801.2,488.0 803.5,487.1 C805.7,486.3 808.2,486.0 810.3,486.0 C812.3,486.0 814.0,486.3 815.9,487.1 C817.8,488.0 819.7,489.4 821.6,491.0 C823.5,492.6 825.5,494.4 827.2,496.6 C828.9,498.9 830.3,501.5 831.8,504.6 C833.3,507.6 834.8,511.6 836.3,514.7 C837.8,517.9 839.3,521.1 840.8,523.4 C842.3,525.6 843.8,527.2 845.3,528.3 C846.9,529.5 848.0,529.7 849.9,530.1 C851.8,530.6 854.6,530.0 856.7,531.0 C858.7,532.1 860.5,534.6 862.3,536.3 C864.1,538.0 866.5,540.4 867.3,541.2" stroke="#ff8c00" stroke-width="2.15" fill="none" stroke-linejoin="round" stroke-linecap="round"/>
<path d="M8.0,629.5 C8.7,628.0 10.5,623.2 11.9,620.8 C13.3,618.5 14.8,617.7 16.2,615.4 C17.7,613.1 19.1,609.1 20.6,606.7 C22.0,604.4 23.5,602.5 24.9,601.3 C26.3,600.1 27.6,600.0 29.2,599.6 C30.9,599.2 32.7,599.2 34.6,599.2 C36.6,599.1 39.5,598.6 41.1,599.2 C42.8,599.7 43.3,600.6 44.4,602.4 C45.5,604.2 46.6,607.5 47.6,610.0 C48.7,612.5 49.8,615.8 50.9,617.6 C52.0,619.4 52.9,619.2 54.1,620.8 C55.4,622.4 57.2,625.0 58.5,627.3 C59.7,629.7 60.7,632.8 61.7,634.9 C62.7,637.0 63.4,639.5 64.5,639.9 C65.6,640.2 67.1,637.2 68.2,637.1 C69.4,636.9 70.3,638.6 71.5,639.2 C72.6,639.8 74.2,641.0 75.4,640.7 C76.5,640.5 77.4,638.8 78.4,637.7 C79.4,636.6 80.3,634.0 81.2,634.2 C82.1,634.5 83.1,637.1 84.0,639.2 C84.9,641.3 85.7,644.5 86.6,646.8 C87.5,649.1 88.4,651.5 89.2,652.9 C90.0,654.2 90.5,654.9 91.4,654.8 C92.2,654.7 93.2,653.9 94.2,652.2 C95.2,650.5 96.4,647.3 97.4,644.6 C98.5,641.9 99.6,638.9 100.7,636.0 C101.8,633.1 102.9,630.2 103.9,627.3 C105.0,624.4 106.1,621.5 107.2,618.6 C108.3,615.8 109.4,612.9 110.4,610.0 C111.5,607.1 112.6,603.2 113.7,601.3 C114.8,599.4 115.7,599.5 116.9,598.7 C118.2,597.9 120.0,596.6 121.3,596.6 C122.5,596.6 123.4,598.0 124.5,598.7 C125.6,599.4 126.7,599.4 127.8,600.9 C128.8,602.4 129.9,605.8 131.0,607.8 C132.1,609.9 133.1,611.7 134.3,613.2 C135.4,614.7 137.1,616.4 138.1,616.9 C139.2,617.4 139.8,617.2 140.7,616.0 C141.7,614.9 142.9,611.7 144.0,610.0 C145.1,608.3 146.2,606.1 147.2,605.7 C148.3,605.2 149.4,606.5 150.5,607.4 C151.6,608.3 152.7,609.7 153.7,611.1 C154.8,612.4 156.0,614.4 157.0,615.4 C158.0,616.4 158.9,615.1 159.8,616.9 C160.7,618.7 161.4,623.0 162.4,626.2 C163.4,629.4 164.6,633.3 165.6,636.0 C166.7,638.6 167.6,640.8 168.5,642.0 C169.4,643.3 170.2,643.8 171.1,643.5 C171.9,643.3 172.8,641.8 173.7,640.7 C174.6,639.6 175.5,637.3 176.5,637.1 C177.5,636.8 178.5,638.6 179.7,639.2 C181.0,639.8 182.8,640.7 184.1,640.7 C185.3,640.7 186.2,640.4 187.3,639.2 C188.4,638.1 189.5,636.1 190.6,633.8 C191.6,631.5 192.7,628.2 193.8,625.1 C194.9,622.1 196.0,618.0 197.0,615.4 C198.1,612.8 199.2,610.9 200.3,609.6 C201.4,608.2 202.5,607.9 203.5,607.4 C204.6,606.9 205.5,607.6 206.8,606.7 C208.1,605.9 209.9,602.6 211.1,602.4 C212.4,602.2 213.7,605.1 214.4,605.7 C215.0,606.2 214.2,604.8 215.0,605.7 C215.8,606.6 217.9,609.3 219.3,611.1 C220.8,612.9 222.2,615.5 223.7,616.5 C225.1,617.5 226.6,616.6 228.0,617.1 C229.4,617.7 230.7,617.9 231.9,619.7 C233.0,621.6 233.9,625.5 234.9,628.4 C235.9,631.3 236.9,635.0 237.7,637.1 C238.6,639.1 239.0,640.8 239.9,640.9 C240.8,641.1 242.1,639.7 243.1,638.1 C244.2,636.6 245.3,634.3 246.4,631.6 C247.5,628.9 248.6,625.7 249.6,621.9 C250.7,618.1 251.8,612.3 252.9,608.9 C254.0,605.5 254.9,602.8 256.1,601.3 C257.4,599.8 259.0,600.2 260.5,599.8 C261.9,599.4 263.5,598.9 264.8,599.2 C266.1,599.4 267.0,600.0 268.1,601.3 C269.1,602.7 270.2,605.4 271.3,607.4 C272.4,609.4 273.5,611.5 274.5,613.2 C275.6,614.9 276.5,615.6 277.4,617.6 C278.3,619.5 279.0,623.2 280.0,625.1 C280.9,627.1 282.2,628.6 283.2,629.5 C284.2,630.4 285.1,630.7 286.0,630.6 C286.9,630.4 287.8,629.5 288.6,628.4 C289.5,627.3 290.4,625.1 291.2,624.1 C292.0,623.0 292.6,622.0 293.4,621.9 C294.2,621.8 295.2,623.0 296.2,623.6 C297.2,624.2 298.4,625.8 299.4,625.6 C300.5,625.4 301.6,623.7 302.7,622.5 C303.8,621.4 304.9,620.6 305.9,618.6 C307.0,616.7 308.1,613.1 309.2,611.1 C310.3,609.1 311.4,607.3 312.4,606.7 C313.5,606.2 314.6,607.3 315.7,607.8 C316.8,608.3 317.8,609.1 318.9,609.6 C320.1,610.0 321.5,609.3 322.6,610.4 C323.7,611.6 324.4,614.0 325.4,616.5 C326.4,618.9 327.6,622.7 328.7,625.1 C329.8,627.6 331.1,629.9 331.9,631.2 C332.8,632.5 332.8,632.9 333.7,632.7 C334.6,632.5 336.2,631.9 337.3,629.9 C338.5,627.9 339.5,624.2 340.6,620.8 C341.7,617.4 342.8,612.6 343.8,609.6 C344.9,606.5 345.9,604.1 347.1,602.4 C348.3,600.7 349.9,599.8 351.0,599.6 C352.1,599.3 352.7,600.0 353.6,600.9 C354.4,601.8 355.3,603.3 356.2,605.2 C357.1,607.1 358.0,610.3 359.0,612.1 C360.0,614.0 361.2,615.3 362.2,616.5 C363.3,617.6 364.3,617.7 365.5,619.1 C366.6,620.5 368.0,624.5 369.2,624.7 C370.4,624.9 371.4,621.7 372.6,620.4 C373.8,619.0 375.2,617.6 376.3,616.5 C377.4,615.4 378.3,614.4 379.1,613.9 C380.0,613.3 380.6,612.1 381.3,613.2 C382.0,614.4 382.7,617.6 383.5,620.8 C384.3,624.1 385.2,629.1 386.1,632.7 C386.9,636.3 387.8,640.0 388.7,642.5 C389.6,644.9 390.5,645.9 391.5,647.2 C392.5,648.6 393.8,649.4 394.7,650.7 C395.7,652.0 396.4,653.9 397.3,655.0 C398.2,656.2 399.3,657.4 400.1,657.6 C401.0,657.9 401.5,658.0 402.3,656.5 C403.1,655.1 404.2,652.0 405.1,649.0 C406.0,645.9 406.9,641.9 407.7,638.1 C408.6,634.3 409.4,630.2 410.3,626.2 C411.2,622.3 412.2,617.6 413.1,614.3 C414.1,611.1 415.0,608.7 415.9,606.7 C416.9,604.8 417.9,603.4 419.0,602.4 C420.1,601.4 421.2,601.1 422.4,600.9 C423.6,600.7 425.0,600.9 426.1,601.3 C427.3,601.8 428.7,603.1 429.4,603.5 C430.0,603.9 429.5,603.4 430.0,603.9 C430.5,604.5 431.7,605.7 432.6,606.7 C433.5,607.8 434.4,609.8 435.4,610.4 C436.4,611.0 437.7,610.5 438.7,610.4 C439.6,610.3 440.4,609.5 441.3,610.0 C442.2,610.5 443.1,611.6 444.1,613.2 C445.1,614.9 446.2,617.2 447.3,619.7 C448.4,622.3 449.5,625.9 450.6,628.4 C451.7,630.8 452.7,633.3 453.8,634.5 C454.9,635.6 455.9,635.6 457.1,635.5 C458.2,635.5 459.7,633.8 460.7,634.2 C461.8,634.7 462.6,636.4 463.6,638.1 C464.6,639.9 465.7,642.4 466.8,644.6 C467.9,646.9 469.0,649.8 470.1,651.6 C471.1,653.4 472.3,655.5 473.3,655.5 C474.3,655.4 475.0,653.0 475.9,651.1 C476.8,649.2 477.9,645.6 478.7,644.2 C479.6,642.8 480.1,642.5 480.9,642.9 C481.7,643.3 482.9,645.6 483.7,646.8 C484.5,648.0 485.1,649.3 485.9,650.0 C486.7,650.8 487.6,650.2 488.5,651.1 C489.3,652.0 490.2,654.0 491.1,655.5 C492.0,656.9 493.0,659.0 493.9,659.8 C494.7,660.6 495.1,660.8 496.0,660.4 C496.9,660.1 498.2,659.4 499.3,657.6 C500.4,655.9 501.5,652.8 502.5,650.0 C503.6,647.3 504.7,643.7 505.8,641.4 C506.9,639.0 508.0,636.8 509.0,636.0 C510.1,635.2 511.2,636.5 512.3,636.6 C513.4,636.7 514.4,636.9 515.5,636.6 C516.7,636.3 517.9,635.4 519.2,634.9 C520.5,634.3 521.9,633.1 523.1,633.4 C524.3,633.6 525.3,635.3 526.4,636.4 C527.4,637.5 528.5,639.8 529.6,639.9 C530.7,640.0 531.8,637.8 532.9,637.1 C533.9,636.3 535.0,635.4 536.1,635.3 C537.2,635.2 538.3,636.6 539.4,636.6 C540.4,636.6 541.3,636.0 542.6,635.3 C543.9,634.7 545.7,633.9 546.9,632.7 C548.2,631.6 549.1,630.4 550.2,628.4 C551.3,626.4 552.3,623.5 553.4,620.8 C554.5,618.1 555.6,614.0 556.7,612.1 C557.8,610.3 558.8,609.8 559.9,609.6 C561.0,609.3 562.2,610.3 563.2,610.4 C564.2,610.5 564.9,610.9 566.0,610.0 C567.1,609.1 568.5,606.4 569.7,605.2 C570.8,604.0 571.9,603.1 572.9,602.8 C573.9,602.6 574.6,602.9 575.5,603.9 C576.4,604.9 577.3,607.3 578.3,608.9 C579.3,610.5 580.5,612.3 581.6,613.2 C582.7,614.2 583.7,614.7 584.8,614.7 C586.0,614.7 587.2,613.2 588.5,613.2 C589.8,613.3 591.2,614.4 592.4,615.0 C593.6,615.6 594.6,616.8 595.6,616.9 C596.7,617.0 597.8,616.1 598.9,615.4 C600.0,614.7 601.1,614.0 602.1,612.6 C603.2,611.1 604.1,608.4 605.0,606.7 C605.9,605.0 606.7,602.2 607.6,602.4 C608.4,602.6 609.3,605.7 610.2,607.8 C611.1,610.0 612.0,613.2 613.0,615.4 C613.9,617.6 614.8,619.7 615.8,621.2 C616.8,622.8 617.8,623.8 618.8,624.7 C619.8,625.6 620.7,625.8 621.6,626.9 C622.6,628.0 623.5,630.4 624.4,631.2 C625.4,632.0 626.5,632.0 627.5,631.6 C628.5,631.3 629.4,630.1 630.3,629.0 C631.2,628.0 632.2,626.2 633.1,625.1 C634.0,624.1 634.8,622.8 635.7,622.5 C636.6,622.3 637.3,623.4 638.3,623.6 C639.3,623.8 640.8,622.7 641.8,623.6 C642.7,624.6 643.4,628.2 643.9,629.5 C644.5,630.8 644.3,629.7 645.0,631.5 C645.7,633.4 647.3,638.0 648.4,640.6 C649.5,643.2 650.7,645.4 651.8,646.9 C652.9,648.4 654.1,649.8 655.2,649.6 C656.3,649.5 657.5,648.1 658.6,646.3 C659.7,644.4 660.8,641.3 662.0,638.3 C663.1,635.3 664.2,631.7 665.4,628.1 C666.5,624.6 667.6,620.4 668.8,616.8 C669.9,613.2 671.0,609.1 672.2,606.6 C673.3,604.2 674.2,603.2 675.6,602.1 C676.9,601.1 678.6,600.6 680.1,600.3 C681.6,600.0 683.3,600.2 684.6,600.5 C685.9,600.8 686.9,600.8 688.0,602.1 C689.1,603.4 690.3,606.6 691.4,608.4 C692.5,610.3 693.7,611.7 694.8,613.4 C695.9,615.2 696.9,617.4 698.2,619.1 C699.5,620.8 701.4,621.9 702.7,623.6 C704.0,625.3 705.0,627.7 706.1,629.3 C707.3,630.9 708.4,633.0 709.5,633.4 C710.6,633.7 711.8,631.3 712.9,631.5 C714.0,631.8 715.2,633.8 716.3,634.9 C717.4,636.1 718.6,636.9 719.7,638.3 C720.8,639.7 721.8,641.7 723.1,643.3 C724.4,644.9 726.2,646.0 727.6,647.8 C729.0,649.6 730.3,653.0 731.5,654.2 C732.6,655.3 733.4,654.4 734.4,654.6 C735.5,654.8 736.7,655.5 737.8,655.3 C738.9,655.2 740.3,653.0 741.2,653.7 C742.2,654.5 742.6,657.9 743.5,659.8 C744.3,661.8 745.5,664.1 746.4,665.5 C747.4,666.9 748.2,667.8 749.1,668.4 C750.0,669.1 750.9,669.6 751.9,669.6 C752.8,669.5 753.9,669.3 754.8,668.2 C755.7,667.2 756.3,665.8 757.1,663.2 C757.8,660.7 758.6,656.8 759.3,653.0 C760.1,649.3 760.8,644.7 761.6,640.6 C762.3,636.4 763.1,632.1 763.8,628.1 C764.6,624.2 765.4,620.2 766.1,616.8 C766.9,613.4 767.5,610.3 768.4,607.8 C769.2,605.2 770.2,603.1 771.3,601.7 C772.5,600.3 774.0,600.0 775.2,599.4 C776.4,598.8 777.4,598.3 778.6,598.3 C779.7,598.3 780.6,598.9 782.0,599.4 C783.3,599.8 785.0,600.2 786.5,601.0 C788.0,601.7 789.5,602.8 791.0,603.9 C792.5,605.1 794.0,606.4 795.5,607.8 C797.1,609.2 798.7,611.2 800.1,612.3 C801.4,613.4 802.1,614.8 803.5,614.6 C804.8,614.3 806.7,611.9 808.0,610.7 C809.3,609.5 810.3,607.5 811.4,607.3 C812.5,607.1 813.5,608.4 814.8,609.4 C816.1,610.3 818.0,611.7 819.3,613.0 C820.6,614.2 821.6,615.2 822.7,616.8 C823.8,618.5 825.0,620.7 826.1,622.9 C827.2,625.2 828.4,627.7 829.5,630.4 C830.6,633.2 831.9,636.4 832.9,639.5 C833.9,642.5 834.8,646.5 835.6,648.5 C836.4,650.5 837.1,651.5 837.9,651.5 C838.6,651.5 839.3,650.5 840.1,648.5 C841.0,646.5 842.1,642.7 843.1,639.5 C844.1,636.3 845.1,632.3 846.0,629.3 C847.0,626.3 847.8,623.5 848.7,621.4 C849.6,619.2 850.5,617.3 851.5,616.4 C852.4,615.4 853.5,615.4 854.4,615.7 C855.3,616.0 855.9,616.4 856.7,618.0 C857.4,619.5 858.2,622.3 858.9,624.7 C859.7,627.2 860.4,630.2 861.2,632.7 C861.9,635.1 862.7,637.8 863.5,639.5 C864.2,641.1 865.1,641.8 865.7,642.4 C866.4,643.0 867.0,643.2 867.3,643.3" stroke="#4b0082" stroke-width="2.0" fill="none" stroke-linejoin="round" stroke-linecap="round"/>
<path d="M862.5,463.5 L872.5,463.5 L867.5,458.2 Z" fill="#00ff00" stroke="#003300" stroke-width="0.8"/>
<g stroke="#000" stroke-width="1" shape-rendering="crispEdges" fill="none">
<line x1="0" y1="27.5" x2="1016" y2="27.5"/>
<line x1="0.5" y1="27" x2="0.5" y2="720"/>
<line x1="1015.5" y1="27" x2="1015.5" y2="720"/>
<line x1="0" y1="719.5" x2="1016" y2="719.5"/>
<line x1="0" y1="363.5" x2="1016" y2="363.5"/>
<line x1="0" y1="475.5" x2="1016" y2="475.5"/>
<line x1="0" y1="587.5" x2="1016" y2="587.5"/>
<line x1="952.5" y1="32" x2="952.5" y2="675"/>
<line x1="0" y1="593.5" x2="958" y2="593.5"/>
<line x1="0" y1="674.5" x2="953" y2="674.5"/>
<line x1="953" y1="36.5" x2="959" y2="36.5"/>
<line x1="953" y1="66.5" x2="959" y2="66.5"/>
<line x1="953" y1="98.5" x2="959" y2="98.5"/>
<line x1="953" y1="132.5" x2="959" y2="132.5"/>
<line x1="953" y1="166.5" x2="959" y2="166.5"/>
<line x1="953" y1="203.5" x2="959" y2="203.5"/>
<line x1="953" y1="242.5" x2="959" y2="242.5"/>
<line x1="953" y1="282.5" x2="959" y2="282.5"/>
<line x1="953" y1="325.5" x2="959" y2="325.5"/>
<line x1="953" y1="387.5" x2="959" y2="387.5"/>
<line x1="953" y1="430.5" x2="959" y2="430.5"/>
<line x1="953" y1="495.5" x2="959" y2="495.5"/>
<line x1="953" y1="559.5" x2="959" y2="559.5"/>
<line x1="953" y1="632.5" x2="959" y2="632.5"/>
<line x1="353.5" y1="675" x2="353.5" y2="681"/>
<line x1="857.5" y1="675" x2="857.5" y2="681"/>
</g>
<path d="M922.5,37.5 L922.5,57.5 L937.6,47.5 Z" stroke="#000" stroke-width="1.2" fill="none" stroke-linejoin="miter"/>
<rect x="939.5" y="37.5" width="3" height="20" stroke="#000" stroke-width="1" fill="none" shape-rendering="crispEdges"/>
<rect x="1002.5" y="29.5" width="12" height="12" fill="#fff" stroke="#000" stroke-width="1" shape-rendering="crispEdges"/>
<text x="373" y="19" font-size="16" fill="#000" text-anchor="start" font-family="Liberation Sans, Arial, sans-serif" textLength="260" lengthAdjust="spacing" >^COMP (Daily)&#160; 4/26/2013 - 1/9/2015</text>
<text x="1005.1" y="39" font-size="10" fill="#000" text-anchor="start" font-family="Liberation Sans, Arial, sans-serif" >F</text>
<text x="960.5" y="70.5" font-size="11" fill="#000" text-anchor="start" font-family="Liberation Sans, Arial, sans-serif" letter-spacing="-0.13">4800.00</text>
<text x="960.5" y="102.5" font-size="11" fill="#000" text-anchor="start" font-family="Liberation Sans, Arial, sans-serif" letter-spacing="-0.13">4600.00</text>
<text x="960.5" y="136.5" font-size="11" fill="#000" text-anchor="start" font-family="Liberation Sans, Arial, sans-serif" letter-spacing="-0.13">4400.00</text>
<text x="960.5" y="170.5" font-size="11" fill="#000" text-anchor="start" font-family="Liberation Sans, Arial, sans-serif" letter-spacing="-0.13">4200.00</text>
<text x="960.5" y="207.5" font-size="11" fill="#000" text-anchor="start" font-family="Liberation Sans, Arial, sans-serif" letter-spacing="-0.13">4000.00</text>
<text x="960.5" y="246.5" font-size="11" fill="#000" text-anchor="start" font-family="Liberation Sans, Arial, sans-serif" letter-spacing="-0.13">3800.00</text>
<text x="960.5" y="286.5" font-size="11" fill="#000" text-anchor="start" font-family="Liberation Sans, Arial, sans-serif" letter-spacing="-0.13">3600.00</text>
<text x="960.5" y="329.5" font-size="11" fill="#000" text-anchor="start" font-family="Liberation Sans, Arial, sans-serif" letter-spacing="-0.13">3400.00</text>
<text x="960.5" y="391.5" font-size="11" fill="#000" text-anchor="start" font-family="Liberation Sans, Arial, sans-serif" letter-spacing="-0.13">0.5</text>
<text x="960.5" y="434.5" font-size="11" fill="#000" text-anchor="start" font-family="Liberation Sans, Arial, sans-serif" letter-spacing="-0.13">0</text>
<text x="960.5" y="499.5" font-size="11" fill="#000" text-anchor="start" font-family="Liberation Sans, Arial, sans-serif" letter-spacing="-0.13">0.05</text>
<text x="960.5" y="563.5" font-size="11" fill="#000" text-anchor="start" font-family="Liberation Sans, Arial, sans-serif" letter-spacing="-0.13">-0.05</text>
<text x="960.5" y="597.5" font-size="11" fill="#000" text-anchor="start" font-family="Liberation Sans, Arial, sans-serif" letter-spacing="-0.13">10</text>
<text x="960.5" y="636.5" font-size="11" fill="#000" text-anchor="start" font-family="Liberation Sans, Arial, sans-serif" letter-spacing="-0.13">0</text>
<text x="353.5" y="691" font-size="11" fill="#000" text-anchor="middle" font-family="Liberation Sans, Arial, sans-serif" >14</text>
<text x="857.5" y="691" font-size="11" fill="#000" text-anchor="middle" font-family="Liberation Sans, Arial, sans-serif" >15</text>
<path d="M953.5,81 L960,74.0 L1002,74.0 L1002,88.0 L960,88.0 Z" fill="#000" stroke="#000" stroke-width="0.8"/>
<text x="961.2" y="85" font-size="11" fill="#fff" text-anchor="start" font-family="Liberation Sans, Arial, sans-serif" letter-spacing="-0.13">4704.07</text>
<path d="M953.5,444 L960,437.25 L993,437.25 L993,450.75 L960,450.75 Z" fill="#4169e1" stroke="#333" stroke-width="0.8"/>
<text x="961.2" y="448" font-size="11" fill="#fff" text-anchor="start" font-family="Liberation Sans, Arial, sans-serif" letter-spacing="-0.13">-0.162</text>
<path d="M953.5,437 L960,430.25 L999,430.25 L999,443.75 L960,443.75 Z" fill="#7cfc00" stroke="#000" stroke-width="0.8"/>
<text x="961.2" y="441" font-size="11" fill="#000" text-anchor="start" font-family="Liberation Sans, Arial, sans-serif" letter-spacing="-0.13">-0.0718</text>
<path d="M953.5,527 L960,520.25 L1008,520.25 L1008,533.75 L960,533.75 Z" fill="#b22222" stroke="#000" stroke-width="0.8"/>
<text x="961.2" y="531" font-size="11" fill="#fff" text-anchor="start" font-family="Liberation Sans, Arial, sans-serif" letter-spacing="-0.13">0.000479</text>
<path d="M953.5,541.3 L960,534.8 L992.5,534.8 L992.5,547.8 L960,547.8 Z" fill="#ff8c00" stroke="#000" stroke-width="0.8"/>
<text x="961.2" y="545.3" font-size="11" fill="#000" text-anchor="start" font-family="Liberation Sans, Arial, sans-serif" letter-spacing="-0.13">-0.022</text>
</svg>
</body></html>
